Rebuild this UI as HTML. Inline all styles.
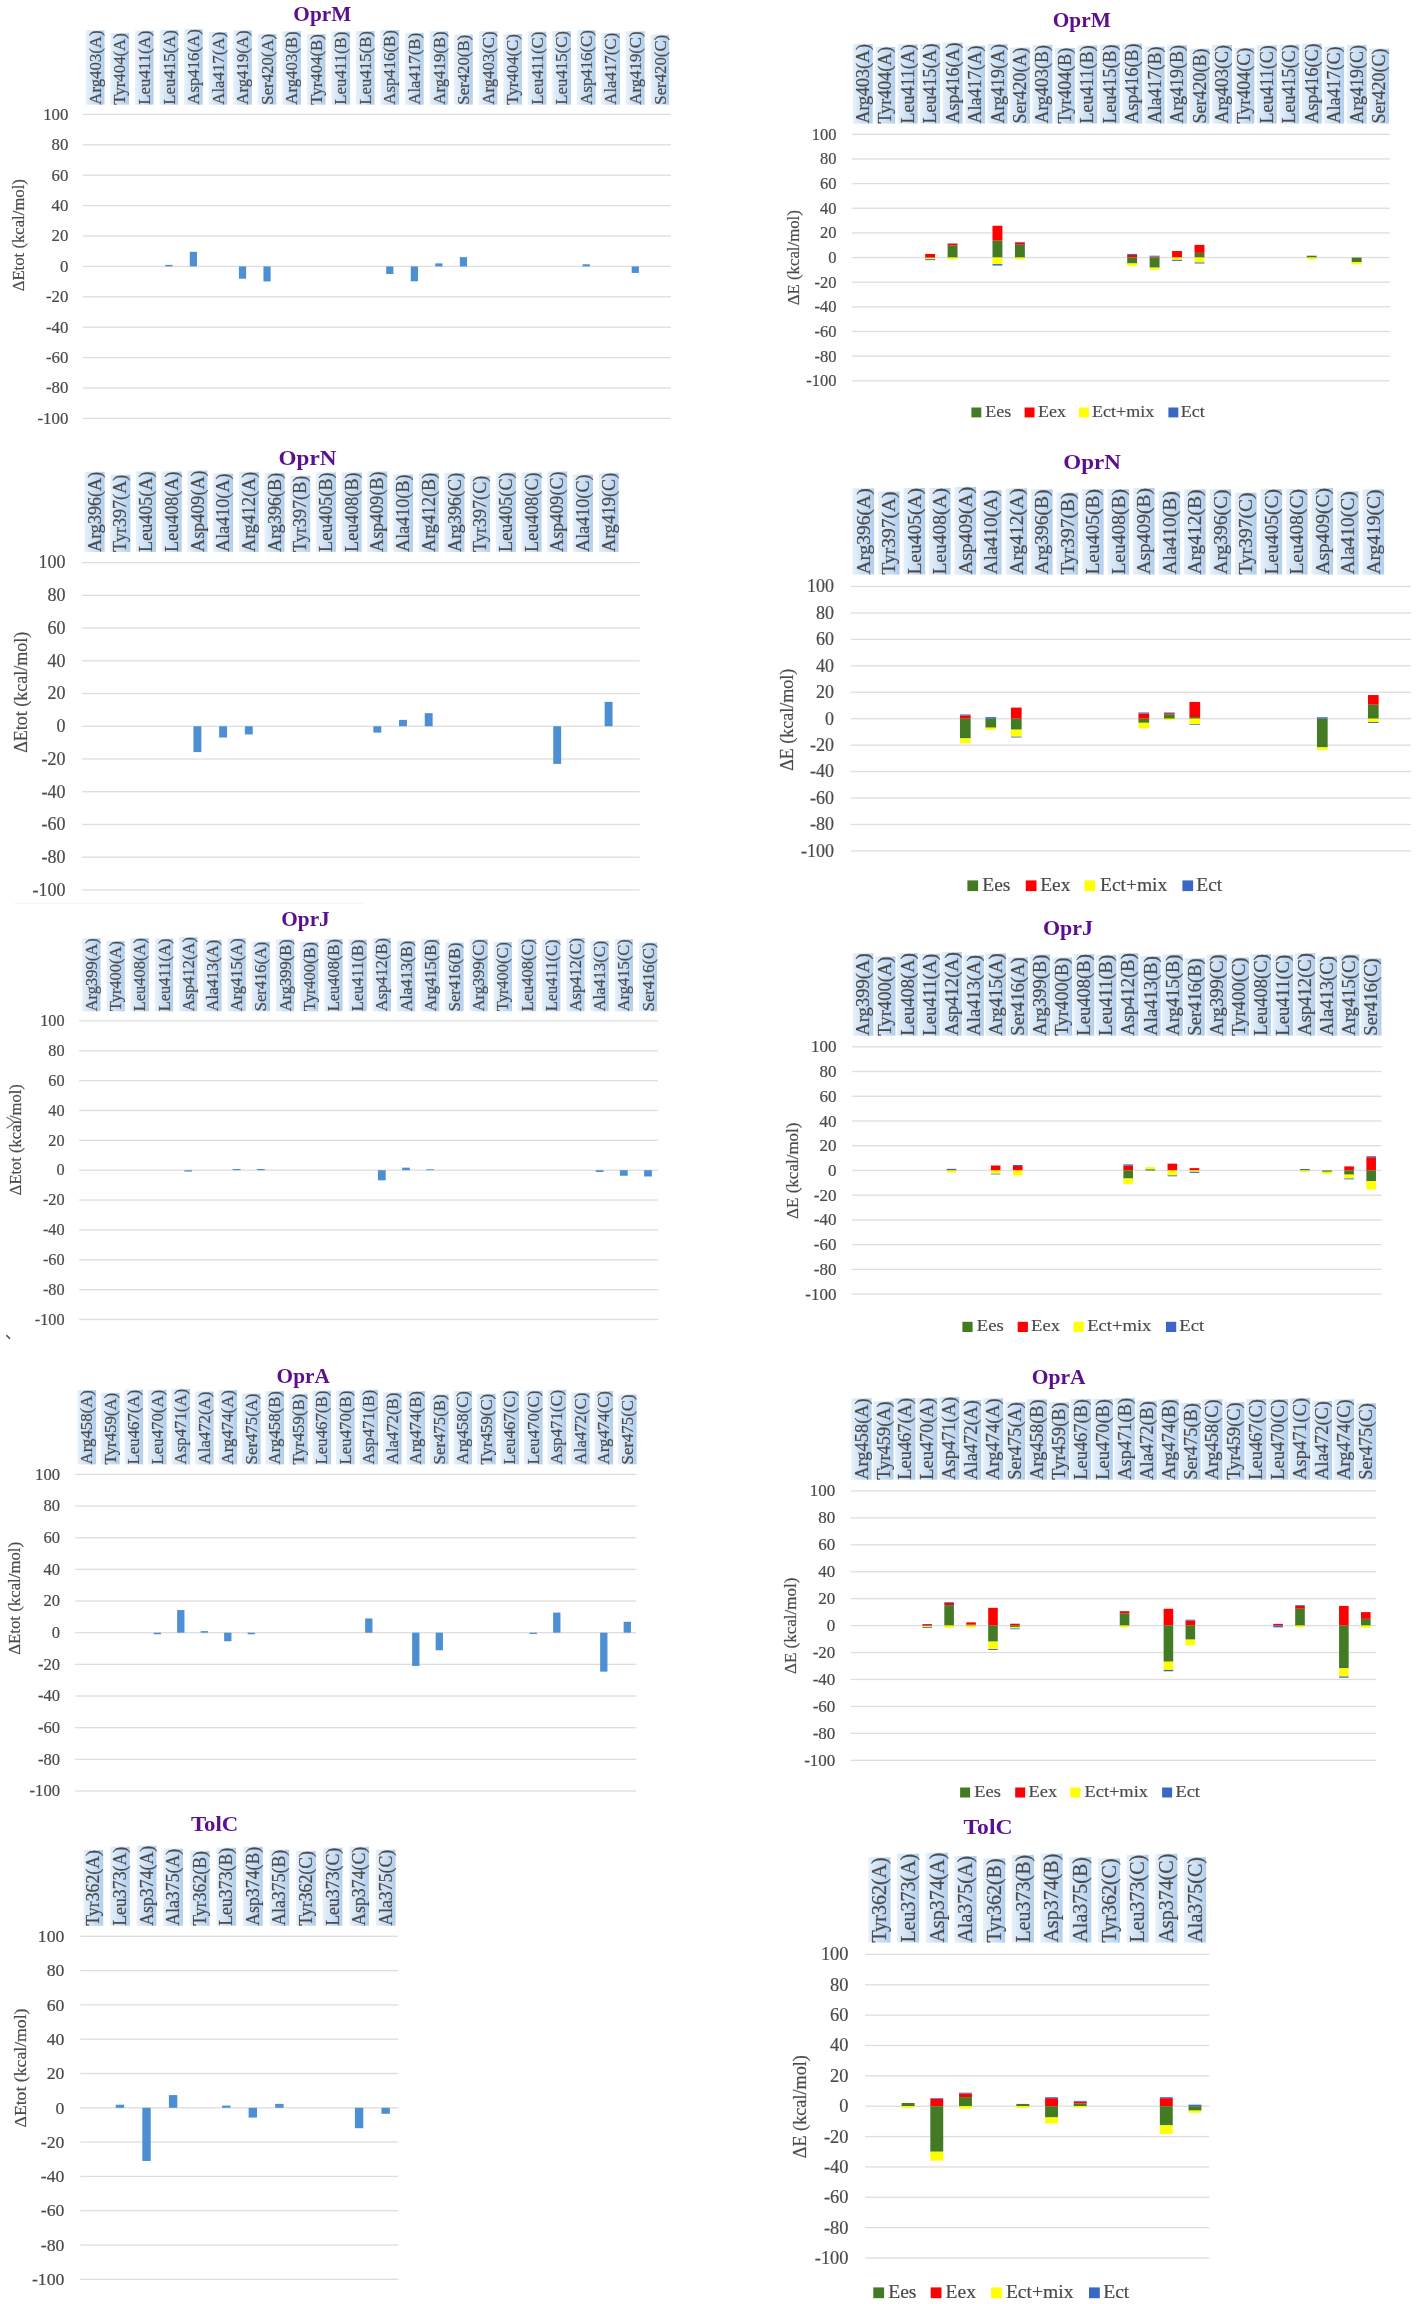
<!DOCTYPE html>
<html><head><meta charset="utf-8"><title>Charts</title>
<style>
html,body{margin:0;padding:0;background:#fff;}
svg{display:block;will-change:transform;}
text{font-family:"Liberation Serif",serif;}
.s text{stroke:#4a4a4a;stroke-width:0.2px;}
</style></head><body>
<svg class="s" width="1416" height="2304" viewBox="0 0 1416 2304">
<defs>
<linearGradient id="lg" x1="0" y1="0" x2="0" y2="1"><stop offset="0" stop-color="#e7f1fb"/><stop offset="1" stop-color="#b2cfee"/></linearGradient>
</defs>
<rect width="1416" height="2304" fill="#fff"/>
<rect x="14" y="902.8" width="350" height="1" fill="#f5f5f5"/>
<rect x="82.8" y="113.75" width="588.1" height="1.3" fill="#dedede"/>
<rect x="82.8" y="144.15" width="588.1" height="1.3" fill="#dedede"/>
<rect x="82.8" y="174.55" width="588.1" height="1.3" fill="#dedede"/>
<rect x="82.8" y="204.95" width="588.1" height="1.3" fill="#dedede"/>
<rect x="82.8" y="235.35" width="588.1" height="1.3" fill="#dedede"/>
<rect x="82.8" y="265.75" width="588.1" height="1.3" fill="#dedede"/>
<rect x="82.8" y="296.15" width="588.1" height="1.3" fill="#dedede"/>
<rect x="82.8" y="326.55" width="588.1" height="1.3" fill="#dedede"/>
<rect x="82.8" y="356.95" width="588.1" height="1.3" fill="#dedede"/>
<rect x="82.8" y="387.35" width="588.1" height="1.3" fill="#dedede"/>
<rect x="82.8" y="417.75" width="588.1" height="1.3" fill="#dedede"/>
<text x="68.3" y="119.84" font-size="16.8" text-anchor="end" fill="#4a4a4a">100</text>
<text x="68.3" y="150.24" font-size="16.8" text-anchor="end" fill="#4a4a4a">80</text>
<text x="68.3" y="180.64" font-size="16.8" text-anchor="end" fill="#4a4a4a">60</text>
<text x="68.3" y="211.04" font-size="16.8" text-anchor="end" fill="#4a4a4a">40</text>
<text x="68.3" y="241.44" font-size="16.8" text-anchor="end" fill="#4a4a4a">20</text>
<text x="68.3" y="271.84" font-size="16.8" text-anchor="end" fill="#4a4a4a">0</text>
<text x="68.3" y="302.24" font-size="16.8" text-anchor="end" fill="#4a4a4a">-20</text>
<text x="68.3" y="332.64" font-size="16.8" text-anchor="end" fill="#4a4a4a">-40</text>
<text x="68.3" y="363.04" font-size="16.8" text-anchor="end" fill="#4a4a4a">-60</text>
<text x="68.3" y="393.44" font-size="16.8" text-anchor="end" fill="#4a4a4a">-80</text>
<text x="68.3" y="423.84" font-size="16.8" text-anchor="end" fill="#4a4a4a">-100</text>
<text transform="translate(23.8,235.2) rotate(-90)" x="0" y="0" font-size="16.7" text-anchor="middle" fill="#4a4a4a">ΔEtot (kcal/mol)</text>
<text x="322.3" y="21.4" font-size="20.6" font-weight="bold" text-anchor="middle" textLength="57.93" lengthAdjust="spacingAndGlyphs" fill="#5b0f8f" style="stroke:none">OprM</text>
<g transform="translate(100.87,104.7) rotate(-90)"><rect x="0" y="-14.97" width="74.35" height="18.6" fill="url(#lg)"/><text x="0" y="0" font-size="16.8" fill="#4a4a4a">Arg403(A)</text></g>
<g transform="translate(125.42,104.7) rotate(-90)"><rect x="0" y="-14.97" width="71.61" height="18.6" fill="url(#lg)"/><text x="0" y="0" font-size="16.8" fill="#4a4a4a">Tyr404(A)</text></g>
<g transform="translate(149.97,104.7) rotate(-90)"><rect x="0" y="-14.97" width="74.02" height="18.6" fill="url(#lg)"/><text x="0" y="0" font-size="16.8" fill="#4a4a4a">Leu411(A)</text></g>
<g transform="translate(174.52,104.7) rotate(-90)"><rect x="0" y="-14.97" width="74.64" height="18.6" fill="url(#lg)"/><text x="0" y="0" font-size="16.8" fill="#4a4a4a">Leu415(A)</text></g>
<g transform="translate(199.07,104.7) rotate(-90)"><rect x="0" y="-14.97" width="75.59" height="18.6" fill="url(#lg)"/><text x="0" y="0" font-size="16.8" fill="#4a4a4a">Asp416(A)</text></g>
<g transform="translate(223.62,104.7) rotate(-90)"><rect x="0" y="-14.97" width="72.78" height="18.6" fill="url(#lg)"/><text x="0" y="0" font-size="16.8" fill="#4a4a4a">Ala417(A)</text></g>
<g transform="translate(248.17,104.7) rotate(-90)"><rect x="0" y="-14.97" width="74.35" height="18.6" fill="url(#lg)"/><text x="0" y="0" font-size="16.8" fill="#4a4a4a">Arg419(A)</text></g>
<g transform="translate(272.72,104.7) rotate(-90)"><rect x="0" y="-14.97" width="70.92" height="18.6" fill="url(#lg)"/><text x="0" y="0" font-size="16.8" fill="#4a4a4a">Ser420(A)</text></g>
<g transform="translate(297.27,104.7) rotate(-90)"><rect x="0" y="-14.97" width="73.42" height="18.6" fill="url(#lg)"/><text x="0" y="0" font-size="16.8" fill="#4a4a4a">Arg403(B)</text></g>
<g transform="translate(321.82,104.7) rotate(-90)"><rect x="0" y="-14.97" width="70.68" height="18.6" fill="url(#lg)"/><text x="0" y="0" font-size="16.8" fill="#4a4a4a">Tyr404(B)</text></g>
<g transform="translate(346.37,104.7) rotate(-90)"><rect x="0" y="-14.97" width="73.09" height="18.6" fill="url(#lg)"/><text x="0" y="0" font-size="16.8" fill="#4a4a4a">Leu411(B)</text></g>
<g transform="translate(370.92,104.7) rotate(-90)"><rect x="0" y="-14.97" width="73.71" height="18.6" fill="url(#lg)"/><text x="0" y="0" font-size="16.8" fill="#4a4a4a">Leu415(B)</text></g>
<g transform="translate(395.47,104.7) rotate(-90)"><rect x="0" y="-14.97" width="74.67" height="18.6" fill="url(#lg)"/><text x="0" y="0" font-size="16.8" fill="#4a4a4a">Asp416(B)</text></g>
<g transform="translate(420.02,104.7) rotate(-90)"><rect x="0" y="-14.97" width="71.85" height="18.6" fill="url(#lg)"/><text x="0" y="0" font-size="16.8" fill="#4a4a4a">Ala417(B)</text></g>
<g transform="translate(444.57,104.7) rotate(-90)"><rect x="0" y="-14.97" width="73.42" height="18.6" fill="url(#lg)"/><text x="0" y="0" font-size="16.8" fill="#4a4a4a">Arg419(B)</text></g>
<g transform="translate(469.12,104.7) rotate(-90)"><rect x="0" y="-14.97" width="69.99" height="18.6" fill="url(#lg)"/><text x="0" y="0" font-size="16.8" fill="#4a4a4a">Ser420(B)</text></g>
<g transform="translate(493.67,104.7) rotate(-90)"><rect x="0" y="-14.97" width="73.42" height="18.6" fill="url(#lg)"/><text x="0" y="0" font-size="16.8" fill="#4a4a4a">Arg403(C)</text></g>
<g transform="translate(518.22,104.7) rotate(-90)"><rect x="0" y="-14.97" width="70.68" height="18.6" fill="url(#lg)"/><text x="0" y="0" font-size="16.8" fill="#4a4a4a">Tyr404(C)</text></g>
<g transform="translate(542.77,104.7) rotate(-90)"><rect x="0" y="-14.97" width="73.09" height="18.6" fill="url(#lg)"/><text x="0" y="0" font-size="16.8" fill="#4a4a4a">Leu411(C)</text></g>
<g transform="translate(567.32,104.7) rotate(-90)"><rect x="0" y="-14.97" width="73.71" height="18.6" fill="url(#lg)"/><text x="0" y="0" font-size="16.8" fill="#4a4a4a">Leu415(C)</text></g>
<g transform="translate(591.87,104.7) rotate(-90)"><rect x="0" y="-14.97" width="74.67" height="18.6" fill="url(#lg)"/><text x="0" y="0" font-size="16.8" fill="#4a4a4a">Asp416(C)</text></g>
<g transform="translate(616.42,104.7) rotate(-90)"><rect x="0" y="-14.97" width="71.85" height="18.6" fill="url(#lg)"/><text x="0" y="0" font-size="16.8" fill="#4a4a4a">Ala417(C)</text></g>
<g transform="translate(640.97,104.7) rotate(-90)"><rect x="0" y="-14.97" width="73.42" height="18.6" fill="url(#lg)"/><text x="0" y="0" font-size="16.8" fill="#4a4a4a">Arg419(C)</text></g>
<g transform="translate(665.52,104.7) rotate(-90)"><rect x="0" y="-14.97" width="69.99" height="18.6" fill="url(#lg)"/><text x="0" y="0" font-size="16.8" fill="#4a4a4a">Ser420(C)</text></g>
<rect x="165.25" y="264.88" width="7.2" height="1.52" fill="#4c8fd2"/>
<rect x="189.8" y="251.81" width="7.2" height="14.59" fill="#4c8fd2"/>
<rect x="238.9" y="266.4" width="7.2" height="12.31" fill="#4c8fd2"/>
<rect x="263.45" y="266.4" width="7.2" height="15.05" fill="#4c8fd2"/>
<rect x="386.2" y="266.4" width="7.2" height="7.6" fill="#4c8fd2"/>
<rect x="410.75" y="266.4" width="7.2" height="14.9" fill="#4c8fd2"/>
<rect x="435.3" y="263.36" width="7.2" height="3.04" fill="#4c8fd2"/>
<rect x="459.85" y="257.13" width="7.2" height="9.27" fill="#4c8fd2"/>
<rect x="582.6" y="264.27" width="7.2" height="2.13" fill="#4c8fd2"/>
<rect x="631.7" y="266.4" width="7.2" height="6.54" fill="#4c8fd2"/>
<rect x="851.7" y="133.65" width="538.2" height="1.3" fill="#dedede"/>
<rect x="851.7" y="158.3" width="538.2" height="1.3" fill="#dedede"/>
<rect x="851.7" y="182.95" width="538.2" height="1.3" fill="#dedede"/>
<rect x="851.7" y="207.6" width="538.2" height="1.3" fill="#dedede"/>
<rect x="851.7" y="232.25" width="538.2" height="1.3" fill="#dedede"/>
<rect x="851.7" y="256.9" width="538.2" height="1.3" fill="#dedede"/>
<rect x="851.7" y="281.55" width="538.2" height="1.3" fill="#dedede"/>
<rect x="851.7" y="306.2" width="538.2" height="1.3" fill="#dedede"/>
<rect x="851.7" y="330.85" width="538.2" height="1.3" fill="#dedede"/>
<rect x="851.7" y="355.5" width="538.2" height="1.3" fill="#dedede"/>
<rect x="851.7" y="380.15" width="538.2" height="1.3" fill="#dedede"/>
<text x="836.4" y="139.65" font-size="16.5" text-anchor="end" fill="#4a4a4a">100</text>
<text x="836.4" y="164.3" font-size="16.5" text-anchor="end" fill="#4a4a4a">80</text>
<text x="836.4" y="188.95" font-size="16.5" text-anchor="end" fill="#4a4a4a">60</text>
<text x="836.4" y="213.6" font-size="16.5" text-anchor="end" fill="#4a4a4a">40</text>
<text x="836.4" y="238.25" font-size="16.5" text-anchor="end" fill="#4a4a4a">20</text>
<text x="836.4" y="262.9" font-size="16.5" text-anchor="end" fill="#4a4a4a">0</text>
<text x="836.4" y="287.55" font-size="16.5" text-anchor="end" fill="#4a4a4a">-20</text>
<text x="836.4" y="312.2" font-size="16.5" text-anchor="end" fill="#4a4a4a">-40</text>
<text x="836.4" y="336.85" font-size="16.5" text-anchor="end" fill="#4a4a4a">-60</text>
<text x="836.4" y="361.5" font-size="16.5" text-anchor="end" fill="#4a4a4a">-80</text>
<text x="836.4" y="386.15" font-size="16.5" text-anchor="end" fill="#4a4a4a">-100</text>
<text transform="translate(798.75,257.7) rotate(-90)" x="0" y="0" font-size="16.8" text-anchor="middle" fill="#4a4a4a">ΔE (kcal/mol)</text>
<text x="1081.8" y="26.7" font-size="20.9" font-weight="bold" text-anchor="middle" textLength="58.04" lengthAdjust="spacingAndGlyphs" fill="#5b0f8f" style="stroke:none">OprM</text>
<g transform="translate(868.83,123.6) rotate(-90)"><rect x="0" y="-16.04" width="79.66" height="19.93" fill="url(#lg)"/><text x="0" y="0" font-size="18" fill="#4a4a4a">Arg403(A)</text></g>
<g transform="translate(891.28,123.6) rotate(-90)"><rect x="0" y="-16.04" width="76.72" height="19.93" fill="url(#lg)"/><text x="0" y="0" font-size="18" fill="#4a4a4a">Tyr404(A)</text></g>
<g transform="translate(913.73,123.6) rotate(-90)"><rect x="0" y="-16.04" width="79.3" height="19.93" fill="url(#lg)"/><text x="0" y="0" font-size="18" fill="#4a4a4a">Leu411(A)</text></g>
<g transform="translate(936.18,123.6) rotate(-90)"><rect x="0" y="-16.04" width="79.97" height="19.93" fill="url(#lg)"/><text x="0" y="0" font-size="18" fill="#4a4a4a">Leu415(A)</text></g>
<g transform="translate(958.62,123.6) rotate(-90)"><rect x="0" y="-16.04" width="80.99" height="19.93" fill="url(#lg)"/><text x="0" y="0" font-size="18" fill="#4a4a4a">Asp416(A)</text></g>
<g transform="translate(981.08,123.6) rotate(-90)"><rect x="0" y="-16.04" width="77.98" height="19.93" fill="url(#lg)"/><text x="0" y="0" font-size="18" fill="#4a4a4a">Ala417(A)</text></g>
<g transform="translate(1003.53,123.6) rotate(-90)"><rect x="0" y="-16.04" width="79.66" height="19.93" fill="url(#lg)"/><text x="0" y="0" font-size="18" fill="#4a4a4a">Arg419(A)</text></g>
<g transform="translate(1025.97,123.6) rotate(-90)"><rect x="0" y="-16.04" width="75.98" height="19.93" fill="url(#lg)"/><text x="0" y="0" font-size="18" fill="#4a4a4a">Ser420(A)</text></g>
<g transform="translate(1048.42,123.6) rotate(-90)"><rect x="0" y="-16.04" width="78.66" height="19.93" fill="url(#lg)"/><text x="0" y="0" font-size="18" fill="#4a4a4a">Arg403(B)</text></g>
<g transform="translate(1070.88,123.6) rotate(-90)"><rect x="0" y="-16.04" width="75.73" height="19.93" fill="url(#lg)"/><text x="0" y="0" font-size="18" fill="#4a4a4a">Tyr404(B)</text></g>
<g transform="translate(1093.33,123.6) rotate(-90)"><rect x="0" y="-16.04" width="78.31" height="19.93" fill="url(#lg)"/><text x="0" y="0" font-size="18" fill="#4a4a4a">Leu411(B)</text></g>
<g transform="translate(1115.78,123.6) rotate(-90)"><rect x="0" y="-16.04" width="78.98" height="19.93" fill="url(#lg)"/><text x="0" y="0" font-size="18" fill="#4a4a4a">Leu415(B)</text></g>
<g transform="translate(1138.23,123.6) rotate(-90)"><rect x="0" y="-16.04" width="80" height="19.93" fill="url(#lg)"/><text x="0" y="0" font-size="18" fill="#4a4a4a">Asp416(B)</text></g>
<g transform="translate(1160.67,123.6) rotate(-90)"><rect x="0" y="-16.04" width="76.98" height="19.93" fill="url(#lg)"/><text x="0" y="0" font-size="18" fill="#4a4a4a">Ala417(B)</text></g>
<g transform="translate(1183.12,123.6) rotate(-90)"><rect x="0" y="-16.04" width="78.66" height="19.93" fill="url(#lg)"/><text x="0" y="0" font-size="18" fill="#4a4a4a">Arg419(B)</text></g>
<g transform="translate(1205.58,123.6) rotate(-90)"><rect x="0" y="-16.04" width="74.99" height="19.93" fill="url(#lg)"/><text x="0" y="0" font-size="18" fill="#4a4a4a">Ser420(B)</text></g>
<g transform="translate(1228.03,123.6) rotate(-90)"><rect x="0" y="-16.04" width="78.66" height="19.93" fill="url(#lg)"/><text x="0" y="0" font-size="18" fill="#4a4a4a">Arg403(C)</text></g>
<g transform="translate(1250.48,123.6) rotate(-90)"><rect x="0" y="-16.04" width="75.73" height="19.93" fill="url(#lg)"/><text x="0" y="0" font-size="18" fill="#4a4a4a">Tyr404(C)</text></g>
<g transform="translate(1272.92,123.6) rotate(-90)"><rect x="0" y="-16.04" width="78.31" height="19.93" fill="url(#lg)"/><text x="0" y="0" font-size="18" fill="#4a4a4a">Leu411(C)</text></g>
<g transform="translate(1295.38,123.6) rotate(-90)"><rect x="0" y="-16.04" width="78.98" height="19.93" fill="url(#lg)"/><text x="0" y="0" font-size="18" fill="#4a4a4a">Leu415(C)</text></g>
<g transform="translate(1317.83,123.6) rotate(-90)"><rect x="0" y="-16.04" width="80" height="19.93" fill="url(#lg)"/><text x="0" y="0" font-size="18" fill="#4a4a4a">Asp416(C)</text></g>
<g transform="translate(1340.28,123.6) rotate(-90)"><rect x="0" y="-16.04" width="76.98" height="19.93" fill="url(#lg)"/><text x="0" y="0" font-size="18" fill="#4a4a4a">Ala417(C)</text></g>
<g transform="translate(1362.73,123.6) rotate(-90)"><rect x="0" y="-16.04" width="78.66" height="19.93" fill="url(#lg)"/><text x="0" y="0" font-size="18" fill="#4a4a4a">Arg419(C)</text></g>
<g transform="translate(1385.17,123.6) rotate(-90)"><rect x="0" y="-16.04" width="74.99" height="19.93" fill="url(#lg)"/><text x="0" y="0" font-size="18" fill="#4a4a4a">Ser420(C)</text></g>
<rect x="925.15" y="253.98" width="9.9" height="3.57" fill="#ff0000"/>
<rect x="925.15" y="257.55" width="9.9" height="0.37" fill="#427b23"/>
<rect x="925.15" y="257.92" width="9.9" height="1.23" fill="#ffff00"/>
<rect x="925.15" y="259.15" width="9.9" height="0.99" fill="#3a66c8"/>
<rect x="947.6" y="245.23" width="9.9" height="12.32" fill="#427b23"/>
<rect x="947.6" y="243.5" width="9.9" height="1.73" fill="#ff0000"/>
<rect x="947.6" y="257.55" width="9.9" height="1.73" fill="#ffff00"/>
<rect x="992.5" y="240.54" width="9.9" height="17.01" fill="#427b23"/>
<rect x="992.5" y="225.75" width="9.9" height="14.79" fill="#ff0000"/>
<rect x="992.5" y="257.55" width="9.9" height="6.53" fill="#ffff00"/>
<rect x="992.5" y="264.08" width="9.9" height="1.48" fill="#3a66c8"/>
<rect x="1014.95" y="244.73" width="9.9" height="12.82" fill="#427b23"/>
<rect x="1014.95" y="242.51" width="9.9" height="2.22" fill="#ff0000"/>
<rect x="1014.95" y="241.9" width="9.9" height="0.62" fill="#3a66c8"/>
<rect x="1014.95" y="257.55" width="9.9" height="1.73" fill="#ffff00"/>
<rect x="1127.2" y="254.96" width="9.9" height="2.59" fill="#ff0000"/>
<rect x="1127.2" y="253.98" width="9.9" height="0.99" fill="#3a66c8"/>
<rect x="1127.2" y="257.55" width="9.9" height="5.92" fill="#427b23"/>
<rect x="1127.2" y="263.47" width="9.9" height="2.71" fill="#ffff00"/>
<rect x="1149.65" y="256.56" width="9.9" height="0.99" fill="#ff0000"/>
<rect x="1149.65" y="255.7" width="9.9" height="0.86" fill="#3a66c8"/>
<rect x="1149.65" y="257.55" width="9.9" height="10.11" fill="#427b23"/>
<rect x="1149.65" y="267.66" width="9.9" height="2.22" fill="#ffff00"/>
<rect x="1172.1" y="251.02" width="9.9" height="6.53" fill="#ff0000"/>
<rect x="1172.1" y="257.55" width="9.9" height="2.34" fill="#ffff00"/>
<rect x="1172.1" y="259.89" width="9.9" height="0.99" fill="#3a66c8"/>
<rect x="1194.55" y="252.87" width="9.9" height="4.68" fill="#427b23"/>
<rect x="1194.55" y="244.86" width="9.9" height="8.01" fill="#ff0000"/>
<rect x="1194.55" y="257.55" width="9.9" height="4.93" fill="#ffff00"/>
<rect x="1194.55" y="262.48" width="9.9" height="0.99" fill="#3a66c8"/>
<rect x="1306.8" y="255.7" width="9.9" height="1.85" fill="#427b23"/>
<rect x="1306.8" y="257.55" width="9.9" height="1.85" fill="#ffff00"/>
<rect x="1351.7" y="257.55" width="9.9" height="4.68" fill="#427b23"/>
<rect x="1351.7" y="262.23" width="9.9" height="1.97" fill="#ffff00"/>
<rect x="971.4" y="407.5" width="9.9" height="9.9" fill="#427b23"/>
<text transform="translate(985.2,417.4) scale(1,0.93)" x="0" y="0" font-size="18" fill="#4a4a4a">Ees</text>
<rect x="1024.6" y="407.5" width="9.9" height="9.9" fill="#ff0000"/>
<text transform="translate(1038.1,417.4) scale(1,0.93)" x="0" y="0" font-size="18" fill="#4a4a4a">Eex</text>
<rect x="1079" y="407.5" width="9.9" height="9.9" fill="#ffff00"/>
<text transform="translate(1092.1,417.4) scale(1,0.93)" x="0" y="0" font-size="18" fill="#4a4a4a">Ect+mix</text>
<rect x="1168.4" y="407.5" width="9.9" height="9.9" fill="#3a66c8"/>
<text transform="translate(1180.8,417.4) scale(1,0.93)" x="0" y="0" font-size="18" fill="#4a4a4a">Ect</text>
<rect x="81.9" y="561.95" width="557.8" height="1.3" fill="#dedede"/>
<rect x="81.9" y="594.68" width="557.8" height="1.3" fill="#dedede"/>
<rect x="81.9" y="627.41" width="557.8" height="1.3" fill="#dedede"/>
<rect x="81.9" y="660.14" width="557.8" height="1.3" fill="#dedede"/>
<rect x="81.9" y="692.87" width="557.8" height="1.3" fill="#dedede"/>
<rect x="81.9" y="725.6" width="557.8" height="1.3" fill="#dedede"/>
<rect x="81.9" y="758.33" width="557.8" height="1.3" fill="#dedede"/>
<rect x="81.9" y="791.06" width="557.8" height="1.3" fill="#dedede"/>
<rect x="81.9" y="823.79" width="557.8" height="1.3" fill="#dedede"/>
<rect x="81.9" y="856.52" width="557.8" height="1.3" fill="#dedede"/>
<rect x="81.9" y="889.25" width="557.8" height="1.3" fill="#dedede"/>
<text x="65.6" y="568.43" font-size="18" text-anchor="end" fill="#4a4a4a">100</text>
<text x="65.6" y="601.16" font-size="18" text-anchor="end" fill="#4a4a4a">80</text>
<text x="65.6" y="633.89" font-size="18" text-anchor="end" fill="#4a4a4a">60</text>
<text x="65.6" y="666.62" font-size="18" text-anchor="end" fill="#4a4a4a">40</text>
<text x="65.6" y="699.35" font-size="18" text-anchor="end" fill="#4a4a4a">20</text>
<text x="65.6" y="732.08" font-size="18" text-anchor="end" fill="#4a4a4a">0</text>
<text x="65.6" y="764.81" font-size="18" text-anchor="end" fill="#4a4a4a">-20</text>
<text x="65.6" y="797.54" font-size="18" text-anchor="end" fill="#4a4a4a">-40</text>
<text x="65.6" y="830.27" font-size="18" text-anchor="end" fill="#4a4a4a">-60</text>
<text x="65.6" y="863" font-size="18" text-anchor="end" fill="#4a4a4a">-80</text>
<text x="65.6" y="895.73" font-size="18" text-anchor="end" fill="#4a4a4a">-100</text>
<text transform="translate(26.8,692.3) rotate(-90)" x="0" y="0" font-size="18" text-anchor="middle" fill="#4a4a4a">ΔEtot (kcal/mol)</text>
<text x="307.5" y="464.7" font-size="21.8" font-weight="bold" text-anchor="middle" textLength="57.89" lengthAdjust="spacingAndGlyphs" fill="#5b0f8f" style="stroke:none">OprN</text>
<g transform="translate(100.71,551.9) rotate(-90)"><rect x="0" y="-16.13" width="80.1" height="20.04" fill="url(#lg)"/><text x="0" y="0" font-size="18.1" fill="#4a4a4a">Arg396(A)</text></g>
<g transform="translate(126.41,551.9) rotate(-90)"><rect x="0" y="-16.13" width="77.15" height="20.04" fill="url(#lg)"/><text x="0" y="0" font-size="18.1" fill="#4a4a4a">Tyr397(A)</text></g>
<g transform="translate(152.11,551.9) rotate(-90)"><rect x="0" y="-16.13" width="80.42" height="20.04" fill="url(#lg)"/><text x="0" y="0" font-size="18.1" fill="#4a4a4a">Leu405(A)</text></g>
<g transform="translate(177.81,551.9) rotate(-90)"><rect x="0" y="-16.13" width="80.42" height="20.04" fill="url(#lg)"/><text x="0" y="0" font-size="18.1" fill="#4a4a4a">Leu408(A)</text></g>
<g transform="translate(203.51,551.9) rotate(-90)"><rect x="0" y="-16.13" width="81.44" height="20.04" fill="url(#lg)"/><text x="0" y="0" font-size="18.1" fill="#4a4a4a">Asp409(A)</text></g>
<g transform="translate(229.21,551.9) rotate(-90)"><rect x="0" y="-16.13" width="78.41" height="20.04" fill="url(#lg)"/><text x="0" y="0" font-size="18.1" fill="#4a4a4a">Ala410(A)</text></g>
<g transform="translate(254.91,551.9) rotate(-90)"><rect x="0" y="-16.13" width="80.1" height="20.04" fill="url(#lg)"/><text x="0" y="0" font-size="18.1" fill="#4a4a4a">Arg412(A)</text></g>
<g transform="translate(280.61,551.9) rotate(-90)"><rect x="0" y="-16.13" width="79.1" height="20.04" fill="url(#lg)"/><text x="0" y="0" font-size="18.1" fill="#4a4a4a">Arg396(B)</text></g>
<g transform="translate(306.31,551.9) rotate(-90)"><rect x="0" y="-16.13" width="76.15" height="20.04" fill="url(#lg)"/><text x="0" y="0" font-size="18.1" fill="#4a4a4a">Tyr397(B)</text></g>
<g transform="translate(332.01,551.9) rotate(-90)"><rect x="0" y="-16.13" width="79.42" height="20.04" fill="url(#lg)"/><text x="0" y="0" font-size="18.1" fill="#4a4a4a">Leu405(B)</text></g>
<g transform="translate(357.71,551.9) rotate(-90)"><rect x="0" y="-16.13" width="79.42" height="20.04" fill="url(#lg)"/><text x="0" y="0" font-size="18.1" fill="#4a4a4a">Leu408(B)</text></g>
<g transform="translate(383.41,551.9) rotate(-90)"><rect x="0" y="-16.13" width="80.44" height="20.04" fill="url(#lg)"/><text x="0" y="0" font-size="18.1" fill="#4a4a4a">Asp409(B)</text></g>
<g transform="translate(409.11,551.9) rotate(-90)"><rect x="0" y="-16.13" width="77.41" height="20.04" fill="url(#lg)"/><text x="0" y="0" font-size="18.1" fill="#4a4a4a">Ala410(B)</text></g>
<g transform="translate(434.81,551.9) rotate(-90)"><rect x="0" y="-16.13" width="79.1" height="20.04" fill="url(#lg)"/><text x="0" y="0" font-size="18.1" fill="#4a4a4a">Arg412(B)</text></g>
<g transform="translate(460.51,551.9) rotate(-90)"><rect x="0" y="-16.13" width="79.1" height="20.04" fill="url(#lg)"/><text x="0" y="0" font-size="18.1" fill="#4a4a4a">Arg396(C)</text></g>
<g transform="translate(486.21,551.9) rotate(-90)"><rect x="0" y="-16.13" width="76.15" height="20.04" fill="url(#lg)"/><text x="0" y="0" font-size="18.1" fill="#4a4a4a">Tyr397(C)</text></g>
<g transform="translate(511.91,551.9) rotate(-90)"><rect x="0" y="-16.13" width="79.42" height="20.04" fill="url(#lg)"/><text x="0" y="0" font-size="18.1" fill="#4a4a4a">Leu405(C)</text></g>
<g transform="translate(537.61,551.9) rotate(-90)"><rect x="0" y="-16.13" width="79.42" height="20.04" fill="url(#lg)"/><text x="0" y="0" font-size="18.1" fill="#4a4a4a">Leu408(C)</text></g>
<g transform="translate(563.31,551.9) rotate(-90)"><rect x="0" y="-16.13" width="80.44" height="20.04" fill="url(#lg)"/><text x="0" y="0" font-size="18.1" fill="#4a4a4a">Asp409(C)</text></g>
<g transform="translate(589.01,551.9) rotate(-90)"><rect x="0" y="-16.13" width="77.41" height="20.04" fill="url(#lg)"/><text x="0" y="0" font-size="18.1" fill="#4a4a4a">Ala410(C)</text></g>
<g transform="translate(614.71,551.9) rotate(-90)"><rect x="0" y="-16.13" width="79.1" height="20.04" fill="url(#lg)"/><text x="0" y="0" font-size="18.1" fill="#4a4a4a">Arg419(C)</text></g>
<rect x="193.45" y="726.25" width="7.9" height="25.86" fill="#4c8fd2"/>
<rect x="219.15" y="726.25" width="7.9" height="11.29" fill="#4c8fd2"/>
<rect x="244.85" y="726.25" width="7.9" height="8.18" fill="#4c8fd2"/>
<rect x="373.35" y="726.25" width="7.9" height="6.38" fill="#4c8fd2"/>
<rect x="399.05" y="719.87" width="7.9" height="6.38" fill="#4c8fd2"/>
<rect x="424.75" y="713.16" width="7.9" height="13.09" fill="#4c8fd2"/>
<rect x="553.25" y="726.25" width="7.9" height="37.64" fill="#4c8fd2"/>
<rect x="604.65" y="701.87" width="7.9" height="24.38" fill="#4c8fd2"/>
<rect x="850.6" y="585.85" width="560.5" height="1.3" fill="#dedede"/>
<rect x="850.6" y="612.29" width="560.5" height="1.3" fill="#dedede"/>
<rect x="850.6" y="638.73" width="560.5" height="1.3" fill="#dedede"/>
<rect x="850.6" y="665.17" width="560.5" height="1.3" fill="#dedede"/>
<rect x="850.6" y="691.61" width="560.5" height="1.3" fill="#dedede"/>
<rect x="850.6" y="718.05" width="560.5" height="1.3" fill="#dedede"/>
<rect x="850.6" y="744.49" width="560.5" height="1.3" fill="#dedede"/>
<rect x="850.6" y="770.93" width="560.5" height="1.3" fill="#dedede"/>
<rect x="850.6" y="797.37" width="560.5" height="1.3" fill="#dedede"/>
<rect x="850.6" y="823.81" width="560.5" height="1.3" fill="#dedede"/>
<rect x="850.6" y="850.25" width="560.5" height="1.3" fill="#dedede"/>
<text x="834.1" y="592.33" font-size="18" text-anchor="end" fill="#4a4a4a">100</text>
<text x="834.1" y="618.77" font-size="18" text-anchor="end" fill="#4a4a4a">80</text>
<text x="834.1" y="645.21" font-size="18" text-anchor="end" fill="#4a4a4a">60</text>
<text x="834.1" y="671.65" font-size="18" text-anchor="end" fill="#4a4a4a">40</text>
<text x="834.1" y="698.09" font-size="18" text-anchor="end" fill="#4a4a4a">20</text>
<text x="834.1" y="724.53" font-size="18" text-anchor="end" fill="#4a4a4a">0</text>
<text x="834.1" y="750.97" font-size="18" text-anchor="end" fill="#4a4a4a">-20</text>
<text x="834.1" y="777.41" font-size="18" text-anchor="end" fill="#4a4a4a">-40</text>
<text x="834.1" y="803.85" font-size="18" text-anchor="end" fill="#4a4a4a">-60</text>
<text x="834.1" y="830.29" font-size="18" text-anchor="end" fill="#4a4a4a">-80</text>
<text x="834.1" y="856.73" font-size="18" text-anchor="end" fill="#4a4a4a">-100</text>
<text transform="translate(792.7,719.8) rotate(-90)" x="0" y="0" font-size="18" text-anchor="middle" fill="#4a4a4a">ΔE (kcal/mol)</text>
<text x="1092.1" y="468.8" font-size="22" font-weight="bold" text-anchor="middle" textLength="57.58" lengthAdjust="spacingAndGlyphs" fill="#5b0f8f" style="stroke:none">OprN</text>
<g transform="translate(869.88,574.6) rotate(-90)"><rect x="0" y="-17.37" width="86.29" height="21.59" fill="url(#lg)"/><text x="0" y="0" font-size="19.5" fill="#4a4a4a">Arg396(A)</text></g>
<g transform="translate(895.38,574.6) rotate(-90)"><rect x="0" y="-17.37" width="83.11" height="21.59" fill="url(#lg)"/><text x="0" y="0" font-size="19.5" fill="#4a4a4a">Tyr397(A)</text></g>
<g transform="translate(920.88,574.6) rotate(-90)"><rect x="0" y="-17.37" width="86.64" height="21.59" fill="url(#lg)"/><text x="0" y="0" font-size="19.5" fill="#4a4a4a">Leu405(A)</text></g>
<g transform="translate(946.38,574.6) rotate(-90)"><rect x="0" y="-17.37" width="86.64" height="21.59" fill="url(#lg)"/><text x="0" y="0" font-size="19.5" fill="#4a4a4a">Leu408(A)</text></g>
<g transform="translate(971.88,574.6) rotate(-90)"><rect x="0" y="-17.37" width="87.74" height="21.59" fill="url(#lg)"/><text x="0" y="0" font-size="19.5" fill="#4a4a4a">Asp409(A)</text></g>
<g transform="translate(997.38,574.6) rotate(-90)"><rect x="0" y="-17.37" width="84.47" height="21.59" fill="url(#lg)"/><text x="0" y="0" font-size="19.5" fill="#4a4a4a">Ala410(A)</text></g>
<g transform="translate(1022.88,574.6) rotate(-90)"><rect x="0" y="-17.37" width="86.29" height="21.59" fill="url(#lg)"/><text x="0" y="0" font-size="19.5" fill="#4a4a4a">Arg412(A)</text></g>
<g transform="translate(1048.38,574.6) rotate(-90)"><rect x="0" y="-17.37" width="85.22" height="21.59" fill="url(#lg)"/><text x="0" y="0" font-size="19.5" fill="#4a4a4a">Arg396(B)</text></g>
<g transform="translate(1073.88,574.6) rotate(-90)"><rect x="0" y="-17.37" width="82.04" height="21.59" fill="url(#lg)"/><text x="0" y="0" font-size="19.5" fill="#4a4a4a">Tyr397(B)</text></g>
<g transform="translate(1099.38,574.6) rotate(-90)"><rect x="0" y="-17.37" width="85.56" height="21.59" fill="url(#lg)"/><text x="0" y="0" font-size="19.5" fill="#4a4a4a">Leu405(B)</text></g>
<g transform="translate(1124.88,574.6) rotate(-90)"><rect x="0" y="-17.37" width="85.56" height="21.59" fill="url(#lg)"/><text x="0" y="0" font-size="19.5" fill="#4a4a4a">Leu408(B)</text></g>
<g transform="translate(1150.38,574.6) rotate(-90)"><rect x="0" y="-17.37" width="86.67" height="21.59" fill="url(#lg)"/><text x="0" y="0" font-size="19.5" fill="#4a4a4a">Asp409(B)</text></g>
<g transform="translate(1175.88,574.6) rotate(-90)"><rect x="0" y="-17.37" width="83.4" height="21.59" fill="url(#lg)"/><text x="0" y="0" font-size="19.5" fill="#4a4a4a">Ala410(B)</text></g>
<g transform="translate(1201.38,574.6) rotate(-90)"><rect x="0" y="-17.37" width="85.22" height="21.59" fill="url(#lg)"/><text x="0" y="0" font-size="19.5" fill="#4a4a4a">Arg412(B)</text></g>
<g transform="translate(1226.88,574.6) rotate(-90)"><rect x="0" y="-17.37" width="85.22" height="21.59" fill="url(#lg)"/><text x="0" y="0" font-size="19.5" fill="#4a4a4a">Arg396(C)</text></g>
<g transform="translate(1252.38,574.6) rotate(-90)"><rect x="0" y="-17.37" width="82.04" height="21.59" fill="url(#lg)"/><text x="0" y="0" font-size="19.5" fill="#4a4a4a">Tyr397(C)</text></g>
<g transform="translate(1277.88,574.6) rotate(-90)"><rect x="0" y="-17.37" width="85.56" height="21.59" fill="url(#lg)"/><text x="0" y="0" font-size="19.5" fill="#4a4a4a">Leu405(C)</text></g>
<g transform="translate(1303.38,574.6) rotate(-90)"><rect x="0" y="-17.37" width="85.56" height="21.59" fill="url(#lg)"/><text x="0" y="0" font-size="19.5" fill="#4a4a4a">Leu408(C)</text></g>
<g transform="translate(1328.88,574.6) rotate(-90)"><rect x="0" y="-17.37" width="86.67" height="21.59" fill="url(#lg)"/><text x="0" y="0" font-size="19.5" fill="#4a4a4a">Asp409(C)</text></g>
<g transform="translate(1354.38,574.6) rotate(-90)"><rect x="0" y="-17.37" width="83.4" height="21.59" fill="url(#lg)"/><text x="0" y="0" font-size="19.5" fill="#4a4a4a">Ala410(C)</text></g>
<g transform="translate(1379.88,574.6) rotate(-90)"><rect x="0" y="-17.37" width="85.22" height="21.59" fill="url(#lg)"/><text x="0" y="0" font-size="19.5" fill="#4a4a4a">Arg419(C)</text></g>
<rect x="959.95" y="715.39" width="10.7" height="3.31" fill="#ff0000"/>
<rect x="959.95" y="714.47" width="10.7" height="0.93" fill="#3a66c8"/>
<rect x="959.95" y="718.7" width="10.7" height="19.7" fill="#427b23"/>
<rect x="959.95" y="738.4" width="10.7" height="4.89" fill="#ffff00"/>
<rect x="985.45" y="717.11" width="10.7" height="1.59" fill="#3a66c8"/>
<rect x="985.45" y="718.7" width="10.7" height="8.99" fill="#427b23"/>
<rect x="985.45" y="727.69" width="10.7" height="2.12" fill="#ffff00"/>
<rect x="1010.95" y="707.6" width="10.7" height="11.1" fill="#ff0000"/>
<rect x="1010.95" y="718.7" width="10.7" height="10.97" fill="#427b23"/>
<rect x="1010.95" y="729.67" width="10.7" height="7.01" fill="#ffff00"/>
<rect x="1010.95" y="736.68" width="10.7" height="0.79" fill="#3a66c8"/>
<rect x="1138.45" y="713.41" width="10.7" height="5.29" fill="#ff0000"/>
<rect x="1138.45" y="712.49" width="10.7" height="0.93" fill="#3a66c8"/>
<rect x="1138.45" y="718.7" width="10.7" height="4.1" fill="#427b23"/>
<rect x="1138.45" y="722.8" width="10.7" height="5.55" fill="#ffff00"/>
<rect x="1163.95" y="714.47" width="10.7" height="4.23" fill="#427b23"/>
<rect x="1163.95" y="713.15" width="10.7" height="1.32" fill="#ff0000"/>
<rect x="1163.95" y="712.49" width="10.7" height="0.66" fill="#3a66c8"/>
<rect x="1163.95" y="718.7" width="10.7" height="1.45" fill="#ffff00"/>
<rect x="1189.45" y="716.98" width="10.7" height="1.72" fill="#427b23"/>
<rect x="1189.45" y="701.91" width="10.7" height="15.07" fill="#ff0000"/>
<rect x="1189.45" y="718.7" width="10.7" height="5.55" fill="#ffff00"/>
<rect x="1189.45" y="724.25" width="10.7" height="0.66" fill="#3a66c8"/>
<rect x="1316.95" y="717.25" width="10.7" height="1.45" fill="#3a66c8"/>
<rect x="1316.95" y="718.7" width="10.7" height="28.69" fill="#427b23"/>
<rect x="1316.95" y="747.39" width="10.7" height="2.78" fill="#ffff00"/>
<rect x="1367.95" y="704.69" width="10.7" height="14.01" fill="#427b23"/>
<rect x="1367.95" y="695.04" width="10.7" height="9.65" fill="#ff0000"/>
<rect x="1367.95" y="718.7" width="10.7" height="3.3" fill="#ffff00"/>
<rect x="1367.95" y="722" width="10.7" height="0.93" fill="#3a66c8"/>
<rect x="967.4" y="880.4" width="10.7" height="10.7" fill="#427b23"/>
<text transform="translate(982.3,891) scale(1,0.93)" x="0" y="0" font-size="19.5" fill="#4a4a4a">Ees</text>
<rect x="1025.8" y="880.4" width="10.7" height="10.7" fill="#ff0000"/>
<text transform="translate(1040.2,891) scale(1,0.93)" x="0" y="0" font-size="19.5" fill="#4a4a4a">Eex</text>
<rect x="1084.5" y="880.4" width="10.7" height="10.7" fill="#ffff00"/>
<text transform="translate(1100,891) scale(1,0.93)" x="0" y="0" font-size="19.5" fill="#4a4a4a">Ect+mix</text>
<rect x="1182.4" y="880.4" width="10.7" height="10.7" fill="#3a66c8"/>
<text transform="translate(1196.3,891) scale(1,0.93)" x="0" y="0" font-size="19.5" fill="#4a4a4a">Ect</text>
<rect x="79.1" y="1020.25" width="578.8" height="1.3" fill="#dedede"/>
<rect x="79.1" y="1050.11" width="578.8" height="1.3" fill="#dedede"/>
<rect x="79.1" y="1079.97" width="578.8" height="1.3" fill="#dedede"/>
<rect x="79.1" y="1109.83" width="578.8" height="1.3" fill="#dedede"/>
<rect x="79.1" y="1139.69" width="578.8" height="1.3" fill="#dedede"/>
<rect x="79.1" y="1169.55" width="578.8" height="1.3" fill="#dedede"/>
<rect x="79.1" y="1199.41" width="578.8" height="1.3" fill="#dedede"/>
<rect x="79.1" y="1229.27" width="578.8" height="1.3" fill="#dedede"/>
<rect x="79.1" y="1259.13" width="578.8" height="1.3" fill="#dedede"/>
<rect x="79.1" y="1288.99" width="578.8" height="1.3" fill="#dedede"/>
<rect x="79.1" y="1318.85" width="578.8" height="1.3" fill="#dedede"/>
<text x="64.6" y="1026.18" font-size="16.3" text-anchor="end" fill="#4a4a4a">100</text>
<text x="64.6" y="1056.04" font-size="16.3" text-anchor="end" fill="#4a4a4a">80</text>
<text x="64.6" y="1085.9" font-size="16.3" text-anchor="end" fill="#4a4a4a">60</text>
<text x="64.6" y="1115.76" font-size="16.3" text-anchor="end" fill="#4a4a4a">40</text>
<text x="64.6" y="1145.62" font-size="16.3" text-anchor="end" fill="#4a4a4a">20</text>
<text x="64.6" y="1175.48" font-size="16.3" text-anchor="end" fill="#4a4a4a">0</text>
<text x="64.6" y="1205.34" font-size="16.3" text-anchor="end" fill="#4a4a4a">-20</text>
<text x="64.6" y="1235.2" font-size="16.3" text-anchor="end" fill="#4a4a4a">-40</text>
<text x="64.6" y="1265.06" font-size="16.3" text-anchor="end" fill="#4a4a4a">-60</text>
<text x="64.6" y="1294.92" font-size="16.3" text-anchor="end" fill="#4a4a4a">-80</text>
<text x="64.6" y="1324.78" font-size="16.3" text-anchor="end" fill="#4a4a4a">-100</text>
<text transform="translate(21.1,1139.7) rotate(-90)" x="0" y="0" font-size="16.5" text-anchor="middle" fill="#4a4a4a">ΔEtot (kcal/mol)</text>
<text x="305.5" y="926.2" font-size="20.2" font-weight="bold" text-anchor="middle" textLength="48.45" lengthAdjust="spacingAndGlyphs" fill="#5b0f8f" style="stroke:none">OprJ</text>
<g transform="translate(96.97,1011.3) rotate(-90)"><rect x="0" y="-14.7" width="73.02" height="18.27" fill="url(#lg)"/><text x="0" y="0" font-size="16.5" fill="#4a4a4a">Arg399(A)</text></g>
<g transform="translate(121.17,1011.3) rotate(-90)"><rect x="0" y="-14.7" width="70.33" height="18.27" fill="url(#lg)"/><text x="0" y="0" font-size="16.5" fill="#4a4a4a">Tyr400(A)</text></g>
<g transform="translate(145.37,1011.3) rotate(-90)"><rect x="0" y="-14.7" width="73.31" height="18.27" fill="url(#lg)"/><text x="0" y="0" font-size="16.5" fill="#4a4a4a">Leu408(A)</text></g>
<g transform="translate(169.57,1011.3) rotate(-90)"><rect x="0" y="-14.7" width="72.7" height="18.27" fill="url(#lg)"/><text x="0" y="0" font-size="16.5" fill="#4a4a4a">Leu411(A)</text></g>
<g transform="translate(193.77,1011.3) rotate(-90)"><rect x="0" y="-14.7" width="74.24" height="18.27" fill="url(#lg)"/><text x="0" y="0" font-size="16.5" fill="#4a4a4a">Asp412(A)</text></g>
<g transform="translate(217.97,1011.3) rotate(-90)"><rect x="0" y="-14.7" width="71.48" height="18.27" fill="url(#lg)"/><text x="0" y="0" font-size="16.5" fill="#4a4a4a">Ala413(A)</text></g>
<g transform="translate(242.17,1011.3) rotate(-90)"><rect x="0" y="-14.7" width="73.02" height="18.27" fill="url(#lg)"/><text x="0" y="0" font-size="16.5" fill="#4a4a4a">Arg415(A)</text></g>
<g transform="translate(266.37,1011.3) rotate(-90)"><rect x="0" y="-14.7" width="69.65" height="18.27" fill="url(#lg)"/><text x="0" y="0" font-size="16.5" fill="#4a4a4a">Ser416(A)</text></g>
<g transform="translate(290.57,1011.3) rotate(-90)"><rect x="0" y="-14.7" width="72.11" height="18.27" fill="url(#lg)"/><text x="0" y="0" font-size="16.5" fill="#4a4a4a">Arg399(B)</text></g>
<g transform="translate(314.77,1011.3) rotate(-90)"><rect x="0" y="-14.7" width="69.42" height="18.27" fill="url(#lg)"/><text x="0" y="0" font-size="16.5" fill="#4a4a4a">Tyr400(B)</text></g>
<g transform="translate(338.97,1011.3) rotate(-90)"><rect x="0" y="-14.7" width="72.4" height="18.27" fill="url(#lg)"/><text x="0" y="0" font-size="16.5" fill="#4a4a4a">Leu408(B)</text></g>
<g transform="translate(363.17,1011.3) rotate(-90)"><rect x="0" y="-14.7" width="71.79" height="18.27" fill="url(#lg)"/><text x="0" y="0" font-size="16.5" fill="#4a4a4a">Leu411(B)</text></g>
<g transform="translate(387.37,1011.3) rotate(-90)"><rect x="0" y="-14.7" width="73.33" height="18.27" fill="url(#lg)"/><text x="0" y="0" font-size="16.5" fill="#4a4a4a">Asp412(B)</text></g>
<g transform="translate(411.57,1011.3) rotate(-90)"><rect x="0" y="-14.7" width="70.57" height="18.27" fill="url(#lg)"/><text x="0" y="0" font-size="16.5" fill="#4a4a4a">Ala413(B)</text></g>
<g transform="translate(435.77,1011.3) rotate(-90)"><rect x="0" y="-14.7" width="72.11" height="18.27" fill="url(#lg)"/><text x="0" y="0" font-size="16.5" fill="#4a4a4a">Arg415(B)</text></g>
<g transform="translate(459.97,1011.3) rotate(-90)"><rect x="0" y="-14.7" width="68.74" height="18.27" fill="url(#lg)"/><text x="0" y="0" font-size="16.5" fill="#4a4a4a">Ser416(B)</text></g>
<g transform="translate(484.17,1011.3) rotate(-90)"><rect x="0" y="-14.7" width="72.11" height="18.27" fill="url(#lg)"/><text x="0" y="0" font-size="16.5" fill="#4a4a4a">Arg399(C)</text></g>
<g transform="translate(508.37,1011.3) rotate(-90)"><rect x="0" y="-14.7" width="69.42" height="18.27" fill="url(#lg)"/><text x="0" y="0" font-size="16.5" fill="#4a4a4a">Tyr400(C)</text></g>
<g transform="translate(532.57,1011.3) rotate(-90)"><rect x="0" y="-14.7" width="72.4" height="18.27" fill="url(#lg)"/><text x="0" y="0" font-size="16.5" fill="#4a4a4a">Leu408(C)</text></g>
<g transform="translate(556.77,1011.3) rotate(-90)"><rect x="0" y="-14.7" width="71.79" height="18.27" fill="url(#lg)"/><text x="0" y="0" font-size="16.5" fill="#4a4a4a">Leu411(C)</text></g>
<g transform="translate(580.97,1011.3) rotate(-90)"><rect x="0" y="-14.7" width="73.33" height="18.27" fill="url(#lg)"/><text x="0" y="0" font-size="16.5" fill="#4a4a4a">Asp412(C)</text></g>
<g transform="translate(605.17,1011.3) rotate(-90)"><rect x="0" y="-14.7" width="70.57" height="18.27" fill="url(#lg)"/><text x="0" y="0" font-size="16.5" fill="#4a4a4a">Ala413(C)</text></g>
<g transform="translate(629.37,1011.3) rotate(-90)"><rect x="0" y="-14.7" width="72.11" height="18.27" fill="url(#lg)"/><text x="0" y="0" font-size="16.5" fill="#4a4a4a">Arg415(C)</text></g>
<g transform="translate(653.57,1011.3) rotate(-90)"><rect x="0" y="-14.7" width="68.74" height="18.27" fill="url(#lg)"/><text x="0" y="0" font-size="16.5" fill="#4a4a4a">Ser416(C)</text></g>
<rect x="184.3" y="1170.2" width="7.8" height="1.34" fill="#4c8fd2"/>
<rect x="232.7" y="1169.01" width="7.8" height="1.19" fill="#4c8fd2"/>
<rect x="256.9" y="1169.01" width="7.8" height="1.19" fill="#4c8fd2"/>
<rect x="377.9" y="1170.2" width="7.8" height="10.15" fill="#4c8fd2"/>
<rect x="402.1" y="1167.66" width="7.8" height="2.54" fill="#4c8fd2"/>
<rect x="426.3" y="1169.3" width="7.8" height="0.9" fill="#4c8fd2"/>
<rect x="595.7" y="1170.2" width="7.8" height="1.79" fill="#4c8fd2"/>
<rect x="619.9" y="1170.2" width="7.8" height="5.52" fill="#4c8fd2"/>
<rect x="644.1" y="1170.2" width="7.8" height="6.27" fill="#4c8fd2"/>
<rect x="852.1" y="1046.15" width="529.5" height="1.3" fill="#dedede"/>
<rect x="852.1" y="1070.88" width="529.5" height="1.3" fill="#dedede"/>
<rect x="852.1" y="1095.61" width="529.5" height="1.3" fill="#dedede"/>
<rect x="852.1" y="1120.34" width="529.5" height="1.3" fill="#dedede"/>
<rect x="852.1" y="1145.07" width="529.5" height="1.3" fill="#dedede"/>
<rect x="852.1" y="1169.8" width="529.5" height="1.3" fill="#dedede"/>
<rect x="852.1" y="1194.53" width="529.5" height="1.3" fill="#dedede"/>
<rect x="852.1" y="1219.26" width="529.5" height="1.3" fill="#dedede"/>
<rect x="852.1" y="1243.99" width="529.5" height="1.3" fill="#dedede"/>
<rect x="852.1" y="1268.72" width="529.5" height="1.3" fill="#dedede"/>
<rect x="852.1" y="1293.45" width="529.5" height="1.3" fill="#dedede"/>
<text x="836.5" y="1052.31" font-size="17" text-anchor="end" fill="#4a4a4a">100</text>
<text x="836.5" y="1077.04" font-size="17" text-anchor="end" fill="#4a4a4a">80</text>
<text x="836.5" y="1101.77" font-size="17" text-anchor="end" fill="#4a4a4a">60</text>
<text x="836.5" y="1126.5" font-size="17" text-anchor="end" fill="#4a4a4a">40</text>
<text x="836.5" y="1151.23" font-size="17" text-anchor="end" fill="#4a4a4a">20</text>
<text x="836.5" y="1175.96" font-size="17" text-anchor="end" fill="#4a4a4a">0</text>
<text x="836.5" y="1200.69" font-size="17" text-anchor="end" fill="#4a4a4a">-20</text>
<text x="836.5" y="1225.42" font-size="17" text-anchor="end" fill="#4a4a4a">-40</text>
<text x="836.5" y="1250.15" font-size="17" text-anchor="end" fill="#4a4a4a">-60</text>
<text x="836.5" y="1274.88" font-size="17" text-anchor="end" fill="#4a4a4a">-80</text>
<text x="836.5" y="1299.61" font-size="17" text-anchor="end" fill="#4a4a4a">-100</text>
<text transform="translate(797.8,1170.7) rotate(-90)" x="0" y="0" font-size="17" text-anchor="middle" fill="#4a4a4a">ΔE (kcal/mol)</text>
<text x="1068" y="935.4" font-size="20.8" font-weight="bold" text-anchor="middle" textLength="50.11" lengthAdjust="spacingAndGlyphs" fill="#5b0f8f" style="stroke:none">OprJ</text>
<g transform="translate(869.38,1035.7) rotate(-90)"><rect x="0" y="-16.57" width="82.31" height="20.59" fill="url(#lg)"/><text x="0" y="0" font-size="18.6" fill="#4a4a4a">Arg399(A)</text></g>
<g transform="translate(891.47,1035.7) rotate(-90)"><rect x="0" y="-16.57" width="79.28" height="20.59" fill="url(#lg)"/><text x="0" y="0" font-size="18.6" fill="#4a4a4a">Tyr400(A)</text></g>
<g transform="translate(913.56,1035.7) rotate(-90)"><rect x="0" y="-16.57" width="82.64" height="20.59" fill="url(#lg)"/><text x="0" y="0" font-size="18.6" fill="#4a4a4a">Leu408(A)</text></g>
<g transform="translate(935.65,1035.7) rotate(-90)"><rect x="0" y="-16.57" width="81.95" height="20.59" fill="url(#lg)"/><text x="0" y="0" font-size="18.6" fill="#4a4a4a">Leu411(A)</text></g>
<g transform="translate(957.74,1035.7) rotate(-90)"><rect x="0" y="-16.57" width="83.69" height="20.59" fill="url(#lg)"/><text x="0" y="0" font-size="18.6" fill="#4a4a4a">Asp412(A)</text></g>
<g transform="translate(979.83,1035.7) rotate(-90)"><rect x="0" y="-16.57" width="80.58" height="20.59" fill="url(#lg)"/><text x="0" y="0" font-size="18.6" fill="#4a4a4a">Ala413(A)</text></g>
<g transform="translate(1001.92,1035.7) rotate(-90)"><rect x="0" y="-16.57" width="82.31" height="20.59" fill="url(#lg)"/><text x="0" y="0" font-size="18.6" fill="#4a4a4a">Arg415(A)</text></g>
<g transform="translate(1024.01,1035.7) rotate(-90)"><rect x="0" y="-16.57" width="78.51" height="20.59" fill="url(#lg)"/><text x="0" y="0" font-size="18.6" fill="#4a4a4a">Ser416(A)</text></g>
<g transform="translate(1046.1,1035.7) rotate(-90)"><rect x="0" y="-16.57" width="81.28" height="20.59" fill="url(#lg)"/><text x="0" y="0" font-size="18.6" fill="#4a4a4a">Arg399(B)</text></g>
<g transform="translate(1068.19,1035.7) rotate(-90)"><rect x="0" y="-16.57" width="78.25" height="20.59" fill="url(#lg)"/><text x="0" y="0" font-size="18.6" fill="#4a4a4a">Tyr400(B)</text></g>
<g transform="translate(1090.28,1035.7) rotate(-90)"><rect x="0" y="-16.57" width="81.61" height="20.59" fill="url(#lg)"/><text x="0" y="0" font-size="18.6" fill="#4a4a4a">Leu408(B)</text></g>
<g transform="translate(1112.37,1035.7) rotate(-90)"><rect x="0" y="-16.57" width="80.92" height="20.59" fill="url(#lg)"/><text x="0" y="0" font-size="18.6" fill="#4a4a4a">Leu411(B)</text></g>
<g transform="translate(1134.46,1035.7) rotate(-90)"><rect x="0" y="-16.57" width="82.67" height="20.59" fill="url(#lg)"/><text x="0" y="0" font-size="18.6" fill="#4a4a4a">Asp412(B)</text></g>
<g transform="translate(1156.55,1035.7) rotate(-90)"><rect x="0" y="-16.57" width="79.55" height="20.59" fill="url(#lg)"/><text x="0" y="0" font-size="18.6" fill="#4a4a4a">Ala413(B)</text></g>
<g transform="translate(1178.64,1035.7) rotate(-90)"><rect x="0" y="-16.57" width="81.28" height="20.59" fill="url(#lg)"/><text x="0" y="0" font-size="18.6" fill="#4a4a4a">Arg415(B)</text></g>
<g transform="translate(1200.73,1035.7) rotate(-90)"><rect x="0" y="-16.57" width="77.49" height="20.59" fill="url(#lg)"/><text x="0" y="0" font-size="18.6" fill="#4a4a4a">Ser416(B)</text></g>
<g transform="translate(1222.82,1035.7) rotate(-90)"><rect x="0" y="-16.57" width="81.28" height="20.59" fill="url(#lg)"/><text x="0" y="0" font-size="18.6" fill="#4a4a4a">Arg399(C)</text></g>
<g transform="translate(1244.91,1035.7) rotate(-90)"><rect x="0" y="-16.57" width="78.25" height="20.59" fill="url(#lg)"/><text x="0" y="0" font-size="18.6" fill="#4a4a4a">Tyr400(C)</text></g>
<g transform="translate(1267,1035.7) rotate(-90)"><rect x="0" y="-16.57" width="81.61" height="20.59" fill="url(#lg)"/><text x="0" y="0" font-size="18.6" fill="#4a4a4a">Leu408(C)</text></g>
<g transform="translate(1289.09,1035.7) rotate(-90)"><rect x="0" y="-16.57" width="80.92" height="20.59" fill="url(#lg)"/><text x="0" y="0" font-size="18.6" fill="#4a4a4a">Leu411(C)</text></g>
<g transform="translate(1311.18,1035.7) rotate(-90)"><rect x="0" y="-16.57" width="82.67" height="20.59" fill="url(#lg)"/><text x="0" y="0" font-size="18.6" fill="#4a4a4a">Asp412(C)</text></g>
<g transform="translate(1333.27,1035.7) rotate(-90)"><rect x="0" y="-16.57" width="79.55" height="20.59" fill="url(#lg)"/><text x="0" y="0" font-size="18.6" fill="#4a4a4a">Ala413(C)</text></g>
<g transform="translate(1355.36,1035.7) rotate(-90)"><rect x="0" y="-16.57" width="81.28" height="20.59" fill="url(#lg)"/><text x="0" y="0" font-size="18.6" fill="#4a4a4a">Arg415(C)</text></g>
<g transform="translate(1377.45,1035.7) rotate(-90)"><rect x="0" y="-16.57" width="77.49" height="20.59" fill="url(#lg)"/><text x="0" y="0" font-size="18.6" fill="#4a4a4a">Ser416(C)</text></g>
<rect x="946.66" y="1170.08" width="9.6" height="0.37" fill="#ff0000"/>
<rect x="946.66" y="1168.84" width="9.6" height="1.24" fill="#3a66c8"/>
<rect x="946.66" y="1170.45" width="9.6" height="2.23" fill="#ffff00"/>
<rect x="990.84" y="1165.5" width="9.6" height="4.95" fill="#ff0000"/>
<rect x="990.84" y="1170.45" width="9.6" height="3.34" fill="#ffff00"/>
<rect x="990.84" y="1173.79" width="9.6" height="0.62" fill="#3a66c8"/>
<rect x="1012.93" y="1166" width="9.6" height="4.45" fill="#ff0000"/>
<rect x="1012.93" y="1165.01" width="9.6" height="0.99" fill="#3a66c8"/>
<rect x="1012.93" y="1170.45" width="9.6" height="4.95" fill="#ffff00"/>
<rect x="1123.38" y="1165.38" width="9.6" height="5.07" fill="#ff0000"/>
<rect x="1123.38" y="1164.39" width="9.6" height="0.99" fill="#3a66c8"/>
<rect x="1123.38" y="1170.45" width="9.6" height="8.04" fill="#427b23"/>
<rect x="1123.38" y="1178.49" width="9.6" height="5.44" fill="#ffff00"/>
<rect x="1145.47" y="1169.21" width="9.6" height="1.24" fill="#427b23"/>
<rect x="1145.47" y="1167.11" width="9.6" height="2.1" fill="#ffff00"/>
<rect x="1167.56" y="1163.65" width="9.6" height="6.8" fill="#ff0000"/>
<rect x="1167.56" y="1170.45" width="9.6" height="4.95" fill="#ffff00"/>
<rect x="1167.56" y="1175.4" width="9.6" height="0.87" fill="#3a66c8"/>
<rect x="1189.65" y="1168.1" width="9.6" height="2.35" fill="#ff0000"/>
<rect x="1189.65" y="1170.45" width="9.6" height="1.36" fill="#ffff00"/>
<rect x="1189.65" y="1171.81" width="9.6" height="1.11" fill="#3a66c8"/>
<rect x="1300.1" y="1168.97" width="9.6" height="1.48" fill="#3a66c8"/>
<rect x="1300.1" y="1170.45" width="9.6" height="1.73" fill="#ffff00"/>
<rect x="1322.19" y="1170.45" width="9.6" height="1.36" fill="#427b23"/>
<rect x="1322.19" y="1171.81" width="9.6" height="1.98" fill="#ffff00"/>
<rect x="1344.28" y="1166.37" width="9.6" height="4.08" fill="#ff0000"/>
<rect x="1344.28" y="1170.45" width="9.6" height="4.2" fill="#427b23"/>
<rect x="1344.28" y="1174.65" width="9.6" height="3.83" fill="#ffff00"/>
<rect x="1344.28" y="1178.49" width="9.6" height="0.87" fill="#3a66c8"/>
<rect x="1366.37" y="1157.22" width="9.6" height="13.23" fill="#ff0000"/>
<rect x="1366.37" y="1156.23" width="9.6" height="0.99" fill="#3a66c8"/>
<rect x="1366.37" y="1170.45" width="9.6" height="10.76" fill="#427b23"/>
<rect x="1366.37" y="1181.21" width="9.6" height="8.28" fill="#ffff00"/>
<rect x="962.4" y="1321.8" width="10.2" height="10.2" fill="#427b23"/>
<text transform="translate(976.8,1331.1) scale(1,0.93)" x="0" y="0" font-size="18.6" fill="#4a4a4a">Ees</text>
<rect x="1017.7" y="1321.8" width="10.2" height="10.2" fill="#ff0000"/>
<text transform="translate(1031.1,1331.1) scale(1,0.93)" x="0" y="0" font-size="18.6" fill="#4a4a4a">Eex</text>
<rect x="1073.6" y="1321.8" width="10.2" height="10.2" fill="#ffff00"/>
<text transform="translate(1087.2,1331.1) scale(1,0.93)" x="0" y="0" font-size="18.6" fill="#4a4a4a">Ect+mix</text>
<rect x="1166" y="1321.8" width="10.2" height="10.2" fill="#3a66c8"/>
<text transform="translate(1179.3,1331.1) scale(1,0.93)" x="0" y="0" font-size="18.6" fill="#4a4a4a">Ect</text>
<rect x="75.2" y="1473.75" width="561.2" height="1.3" fill="#dedede"/>
<rect x="75.2" y="1505.41" width="561.2" height="1.3" fill="#dedede"/>
<rect x="75.2" y="1537.07" width="561.2" height="1.3" fill="#dedede"/>
<rect x="75.2" y="1568.73" width="561.2" height="1.3" fill="#dedede"/>
<rect x="75.2" y="1600.39" width="561.2" height="1.3" fill="#dedede"/>
<rect x="75.2" y="1632.05" width="561.2" height="1.3" fill="#dedede"/>
<rect x="75.2" y="1663.71" width="561.2" height="1.3" fill="#dedede"/>
<rect x="75.2" y="1695.37" width="561.2" height="1.3" fill="#dedede"/>
<rect x="75.2" y="1727.03" width="561.2" height="1.3" fill="#dedede"/>
<rect x="75.2" y="1758.69" width="561.2" height="1.3" fill="#dedede"/>
<rect x="75.2" y="1790.35" width="561.2" height="1.3" fill="#dedede"/>
<text x="60" y="1479.78" font-size="16.6" text-anchor="end" fill="#4a4a4a">100</text>
<text x="60" y="1511.44" font-size="16.6" text-anchor="end" fill="#4a4a4a">80</text>
<text x="60" y="1543.1" font-size="16.6" text-anchor="end" fill="#4a4a4a">60</text>
<text x="60" y="1574.76" font-size="16.6" text-anchor="end" fill="#4a4a4a">40</text>
<text x="60" y="1606.42" font-size="16.6" text-anchor="end" fill="#4a4a4a">20</text>
<text x="60" y="1638.08" font-size="16.6" text-anchor="end" fill="#4a4a4a">0</text>
<text x="60" y="1669.74" font-size="16.6" text-anchor="end" fill="#4a4a4a">-20</text>
<text x="60" y="1701.4" font-size="16.6" text-anchor="end" fill="#4a4a4a">-40</text>
<text x="60" y="1733.06" font-size="16.6" text-anchor="end" fill="#4a4a4a">-60</text>
<text x="60" y="1764.72" font-size="16.6" text-anchor="end" fill="#4a4a4a">-80</text>
<text x="60" y="1796.38" font-size="16.6" text-anchor="end" fill="#4a4a4a">-100</text>
<text transform="translate(19.7,1598.3) rotate(-90)" x="0" y="0" font-size="16.8" text-anchor="middle" fill="#4a4a4a">ΔEtot (kcal/mol)</text>
<text x="303.2" y="1382.9" font-size="20.8" font-weight="bold" text-anchor="middle" textLength="53.27" lengthAdjust="spacingAndGlyphs" fill="#5b0f8f" style="stroke:none">OprA</text>
<g transform="translate(92.47,1464.4) rotate(-90)"><rect x="0" y="-14.97" width="74.35" height="18.6" fill="url(#lg)"/><text x="0" y="0" font-size="16.8" fill="#4a4a4a">Arg458(A)</text></g>
<g transform="translate(115.97,1464.4) rotate(-90)"><rect x="0" y="-14.97" width="71.61" height="18.6" fill="url(#lg)"/><text x="0" y="0" font-size="16.8" fill="#4a4a4a">Tyr459(A)</text></g>
<g transform="translate(139.47,1464.4) rotate(-90)"><rect x="0" y="-14.97" width="74.64" height="18.6" fill="url(#lg)"/><text x="0" y="0" font-size="16.8" fill="#4a4a4a">Leu467(A)</text></g>
<g transform="translate(162.97,1464.4) rotate(-90)"><rect x="0" y="-14.97" width="74.64" height="18.6" fill="url(#lg)"/><text x="0" y="0" font-size="16.8" fill="#4a4a4a">Leu470(A)</text></g>
<g transform="translate(186.47,1464.4) rotate(-90)"><rect x="0" y="-14.97" width="75.59" height="18.6" fill="url(#lg)"/><text x="0" y="0" font-size="16.8" fill="#4a4a4a">Asp471(A)</text></g>
<g transform="translate(209.97,1464.4) rotate(-90)"><rect x="0" y="-14.97" width="72.78" height="18.6" fill="url(#lg)"/><text x="0" y="0" font-size="16.8" fill="#4a4a4a">Ala472(A)</text></g>
<g transform="translate(233.47,1464.4) rotate(-90)"><rect x="0" y="-14.97" width="74.35" height="18.6" fill="url(#lg)"/><text x="0" y="0" font-size="16.8" fill="#4a4a4a">Arg474(A)</text></g>
<g transform="translate(256.97,1464.4) rotate(-90)"><rect x="0" y="-14.97" width="70.92" height="18.6" fill="url(#lg)"/><text x="0" y="0" font-size="16.8" fill="#4a4a4a">Ser475(A)</text></g>
<g transform="translate(280.47,1464.4) rotate(-90)"><rect x="0" y="-14.97" width="73.42" height="18.6" fill="url(#lg)"/><text x="0" y="0" font-size="16.8" fill="#4a4a4a">Arg458(B)</text></g>
<g transform="translate(303.97,1464.4) rotate(-90)"><rect x="0" y="-14.97" width="70.68" height="18.6" fill="url(#lg)"/><text x="0" y="0" font-size="16.8" fill="#4a4a4a">Tyr459(B)</text></g>
<g transform="translate(327.47,1464.4) rotate(-90)"><rect x="0" y="-14.97" width="73.71" height="18.6" fill="url(#lg)"/><text x="0" y="0" font-size="16.8" fill="#4a4a4a">Leu467(B)</text></g>
<g transform="translate(350.97,1464.4) rotate(-90)"><rect x="0" y="-14.97" width="73.71" height="18.6" fill="url(#lg)"/><text x="0" y="0" font-size="16.8" fill="#4a4a4a">Leu470(B)</text></g>
<g transform="translate(374.47,1464.4) rotate(-90)"><rect x="0" y="-14.97" width="74.67" height="18.6" fill="url(#lg)"/><text x="0" y="0" font-size="16.8" fill="#4a4a4a">Asp471(B)</text></g>
<g transform="translate(397.97,1464.4) rotate(-90)"><rect x="0" y="-14.97" width="71.85" height="18.6" fill="url(#lg)"/><text x="0" y="0" font-size="16.8" fill="#4a4a4a">Ala472(B)</text></g>
<g transform="translate(421.47,1464.4) rotate(-90)"><rect x="0" y="-14.97" width="73.42" height="18.6" fill="url(#lg)"/><text x="0" y="0" font-size="16.8" fill="#4a4a4a">Arg474(B)</text></g>
<g transform="translate(444.97,1464.4) rotate(-90)"><rect x="0" y="-14.97" width="69.99" height="18.6" fill="url(#lg)"/><text x="0" y="0" font-size="16.8" fill="#4a4a4a">Ser475(B)</text></g>
<g transform="translate(468.47,1464.4) rotate(-90)"><rect x="0" y="-14.97" width="73.42" height="18.6" fill="url(#lg)"/><text x="0" y="0" font-size="16.8" fill="#4a4a4a">Arg458(C)</text></g>
<g transform="translate(491.97,1464.4) rotate(-90)"><rect x="0" y="-14.97" width="70.68" height="18.6" fill="url(#lg)"/><text x="0" y="0" font-size="16.8" fill="#4a4a4a">Tyr459(C)</text></g>
<g transform="translate(515.47,1464.4) rotate(-90)"><rect x="0" y="-14.97" width="73.71" height="18.6" fill="url(#lg)"/><text x="0" y="0" font-size="16.8" fill="#4a4a4a">Leu467(C)</text></g>
<g transform="translate(538.97,1464.4) rotate(-90)"><rect x="0" y="-14.97" width="73.71" height="18.6" fill="url(#lg)"/><text x="0" y="0" font-size="16.8" fill="#4a4a4a">Leu470(C)</text></g>
<g transform="translate(562.47,1464.4) rotate(-90)"><rect x="0" y="-14.97" width="74.67" height="18.6" fill="url(#lg)"/><text x="0" y="0" font-size="16.8" fill="#4a4a4a">Asp471(C)</text></g>
<g transform="translate(585.97,1464.4) rotate(-90)"><rect x="0" y="-14.97" width="71.85" height="18.6" fill="url(#lg)"/><text x="0" y="0" font-size="16.8" fill="#4a4a4a">Ala472(C)</text></g>
<g transform="translate(609.47,1464.4) rotate(-90)"><rect x="0" y="-14.97" width="73.42" height="18.6" fill="url(#lg)"/><text x="0" y="0" font-size="16.8" fill="#4a4a4a">Arg474(C)</text></g>
<g transform="translate(632.97,1464.4) rotate(-90)"><rect x="0" y="-14.97" width="69.99" height="18.6" fill="url(#lg)"/><text x="0" y="0" font-size="16.8" fill="#4a4a4a">Ser475(C)</text></g>
<rect x="153.65" y="1632.7" width="7.3" height="1.58" fill="#4c8fd2"/>
<rect x="177.15" y="1610.06" width="7.3" height="22.64" fill="#4c8fd2"/>
<rect x="200.65" y="1631.12" width="7.3" height="1.58" fill="#4c8fd2"/>
<rect x="224.15" y="1632.7" width="7.3" height="8.55" fill="#4c8fd2"/>
<rect x="247.65" y="1632.7" width="7.3" height="1.58" fill="#4c8fd2"/>
<rect x="365.15" y="1618.45" width="7.3" height="14.25" fill="#4c8fd2"/>
<rect x="412.15" y="1632.7" width="7.3" height="33.24" fill="#4c8fd2"/>
<rect x="435.65" y="1632.7" width="7.3" height="17.57" fill="#4c8fd2"/>
<rect x="529.65" y="1632.7" width="7.3" height="1.27" fill="#4c8fd2"/>
<rect x="553.15" y="1612.6" width="7.3" height="20.1" fill="#4c8fd2"/>
<rect x="600.15" y="1632.7" width="7.3" height="38.94" fill="#4c8fd2"/>
<rect x="623.65" y="1621.78" width="7.3" height="10.92" fill="#4c8fd2"/>
<rect x="850.6" y="1490.25" width="525.7" height="1.3" fill="#dedede"/>
<rect x="850.6" y="1517.19" width="525.7" height="1.3" fill="#dedede"/>
<rect x="850.6" y="1544.13" width="525.7" height="1.3" fill="#dedede"/>
<rect x="850.6" y="1571.07" width="525.7" height="1.3" fill="#dedede"/>
<rect x="850.6" y="1598.01" width="525.7" height="1.3" fill="#dedede"/>
<rect x="850.6" y="1624.95" width="525.7" height="1.3" fill="#dedede"/>
<rect x="850.6" y="1651.89" width="525.7" height="1.3" fill="#dedede"/>
<rect x="850.6" y="1678.83" width="525.7" height="1.3" fill="#dedede"/>
<rect x="850.6" y="1705.77" width="525.7" height="1.3" fill="#dedede"/>
<rect x="850.6" y="1732.71" width="525.7" height="1.3" fill="#dedede"/>
<rect x="850.6" y="1759.65" width="525.7" height="1.3" fill="#dedede"/>
<text x="835.3" y="1496.41" font-size="17" text-anchor="end" fill="#4a4a4a">100</text>
<text x="835.3" y="1523.35" font-size="17" text-anchor="end" fill="#4a4a4a">80</text>
<text x="835.3" y="1550.29" font-size="17" text-anchor="end" fill="#4a4a4a">60</text>
<text x="835.3" y="1577.23" font-size="17" text-anchor="end" fill="#4a4a4a">40</text>
<text x="835.3" y="1604.17" font-size="17" text-anchor="end" fill="#4a4a4a">20</text>
<text x="835.3" y="1631.11" font-size="17" text-anchor="end" fill="#4a4a4a">0</text>
<text x="835.3" y="1658.05" font-size="17" text-anchor="end" fill="#4a4a4a">-20</text>
<text x="835.3" y="1684.99" font-size="17" text-anchor="end" fill="#4a4a4a">-40</text>
<text x="835.3" y="1711.93" font-size="17" text-anchor="end" fill="#4a4a4a">-60</text>
<text x="835.3" y="1738.87" font-size="17" text-anchor="end" fill="#4a4a4a">-80</text>
<text x="835.3" y="1765.81" font-size="17" text-anchor="end" fill="#4a4a4a">-100</text>
<text transform="translate(796.2,1625.8) rotate(-90)" x="0" y="0" font-size="17" text-anchor="middle" fill="#4a4a4a">ΔE (kcal/mol)</text>
<text x="1058.6" y="1383.9" font-size="20.7" font-weight="bold" text-anchor="middle" textLength="53.89" lengthAdjust="spacingAndGlyphs" fill="#5b0f8f" style="stroke:none">OprA</text>
<g transform="translate(867.61,1479.7) rotate(-90)"><rect x="0" y="-16.39" width="81.43" height="20.37" fill="url(#lg)"/><text x="0" y="0" font-size="18.4" fill="#4a4a4a">Arg458(A)</text></g>
<g transform="translate(889.54,1479.7) rotate(-90)"><rect x="0" y="-16.39" width="78.43" height="20.37" fill="url(#lg)"/><text x="0" y="0" font-size="18.4" fill="#4a4a4a">Tyr459(A)</text></g>
<g transform="translate(911.47,1479.7) rotate(-90)"><rect x="0" y="-16.39" width="81.75" height="20.37" fill="url(#lg)"/><text x="0" y="0" font-size="18.4" fill="#4a4a4a">Leu467(A)</text></g>
<g transform="translate(933.4,1479.7) rotate(-90)"><rect x="0" y="-16.39" width="81.75" height="20.37" fill="url(#lg)"/><text x="0" y="0" font-size="18.4" fill="#4a4a4a">Leu470(A)</text></g>
<g transform="translate(955.33,1479.7) rotate(-90)"><rect x="0" y="-16.39" width="82.79" height="20.37" fill="url(#lg)"/><text x="0" y="0" font-size="18.4" fill="#4a4a4a">Asp471(A)</text></g>
<g transform="translate(977.26,1479.7) rotate(-90)"><rect x="0" y="-16.39" width="79.71" height="20.37" fill="url(#lg)"/><text x="0" y="0" font-size="18.4" fill="#4a4a4a">Ala472(A)</text></g>
<g transform="translate(999.19,1479.7) rotate(-90)"><rect x="0" y="-16.39" width="81.43" height="20.37" fill="url(#lg)"/><text x="0" y="0" font-size="18.4" fill="#4a4a4a">Arg474(A)</text></g>
<g transform="translate(1021.12,1479.7) rotate(-90)"><rect x="0" y="-16.39" width="77.67" height="20.37" fill="url(#lg)"/><text x="0" y="0" font-size="18.4" fill="#4a4a4a">Ser475(A)</text></g>
<g transform="translate(1043.05,1479.7) rotate(-90)"><rect x="0" y="-16.39" width="80.41" height="20.37" fill="url(#lg)"/><text x="0" y="0" font-size="18.4" fill="#4a4a4a">Arg458(B)</text></g>
<g transform="translate(1064.98,1479.7) rotate(-90)"><rect x="0" y="-16.39" width="77.41" height="20.37" fill="url(#lg)"/><text x="0" y="0" font-size="18.4" fill="#4a4a4a">Tyr459(B)</text></g>
<g transform="translate(1086.91,1479.7) rotate(-90)"><rect x="0" y="-16.39" width="80.73" height="20.37" fill="url(#lg)"/><text x="0" y="0" font-size="18.4" fill="#4a4a4a">Leu467(B)</text></g>
<g transform="translate(1108.84,1479.7) rotate(-90)"><rect x="0" y="-16.39" width="80.73" height="20.37" fill="url(#lg)"/><text x="0" y="0" font-size="18.4" fill="#4a4a4a">Leu470(B)</text></g>
<g transform="translate(1130.77,1479.7) rotate(-90)"><rect x="0" y="-16.39" width="81.78" height="20.37" fill="url(#lg)"/><text x="0" y="0" font-size="18.4" fill="#4a4a4a">Asp471(B)</text></g>
<g transform="translate(1152.7,1479.7) rotate(-90)"><rect x="0" y="-16.39" width="78.69" height="20.37" fill="url(#lg)"/><text x="0" y="0" font-size="18.4" fill="#4a4a4a">Ala472(B)</text></g>
<g transform="translate(1174.63,1479.7) rotate(-90)"><rect x="0" y="-16.39" width="80.41" height="20.37" fill="url(#lg)"/><text x="0" y="0" font-size="18.4" fill="#4a4a4a">Arg474(B)</text></g>
<g transform="translate(1196.56,1479.7) rotate(-90)"><rect x="0" y="-16.39" width="76.66" height="20.37" fill="url(#lg)"/><text x="0" y="0" font-size="18.4" fill="#4a4a4a">Ser475(B)</text></g>
<g transform="translate(1218.49,1479.7) rotate(-90)"><rect x="0" y="-16.39" width="80.41" height="20.37" fill="url(#lg)"/><text x="0" y="0" font-size="18.4" fill="#4a4a4a">Arg458(C)</text></g>
<g transform="translate(1240.42,1479.7) rotate(-90)"><rect x="0" y="-16.39" width="77.41" height="20.37" fill="url(#lg)"/><text x="0" y="0" font-size="18.4" fill="#4a4a4a">Tyr459(C)</text></g>
<g transform="translate(1262.35,1479.7) rotate(-90)"><rect x="0" y="-16.39" width="80.73" height="20.37" fill="url(#lg)"/><text x="0" y="0" font-size="18.4" fill="#4a4a4a">Leu467(C)</text></g>
<g transform="translate(1284.28,1479.7) rotate(-90)"><rect x="0" y="-16.39" width="80.73" height="20.37" fill="url(#lg)"/><text x="0" y="0" font-size="18.4" fill="#4a4a4a">Leu470(C)</text></g>
<g transform="translate(1306.21,1479.7) rotate(-90)"><rect x="0" y="-16.39" width="81.78" height="20.37" fill="url(#lg)"/><text x="0" y="0" font-size="18.4" fill="#4a4a4a">Asp471(C)</text></g>
<g transform="translate(1328.14,1479.7) rotate(-90)"><rect x="0" y="-16.39" width="78.69" height="20.37" fill="url(#lg)"/><text x="0" y="0" font-size="18.4" fill="#4a4a4a">Ala472(C)</text></g>
<g transform="translate(1350.07,1479.7) rotate(-90)"><rect x="0" y="-16.39" width="80.41" height="20.37" fill="url(#lg)"/><text x="0" y="0" font-size="18.4" fill="#4a4a4a">Arg474(C)</text></g>
<g transform="translate(1372,1479.7) rotate(-90)"><rect x="0" y="-16.39" width="76.66" height="20.37" fill="url(#lg)"/><text x="0" y="0" font-size="18.4" fill="#4a4a4a">Ser475(C)</text></g>
<rect x="922.39" y="1624.12" width="9.6" height="1.48" fill="#ff0000"/>
<rect x="922.39" y="1625.6" width="9.6" height="0.67" fill="#427b23"/>
<rect x="922.39" y="1626.27" width="9.6" height="0.81" fill="#ffff00"/>
<rect x="922.39" y="1627.08" width="9.6" height="0.81" fill="#3a66c8"/>
<rect x="944.32" y="1605.13" width="9.6" height="20.47" fill="#427b23"/>
<rect x="944.32" y="1602.97" width="9.6" height="2.16" fill="#ff0000"/>
<rect x="944.32" y="1602.16" width="9.6" height="0.81" fill="#3a66c8"/>
<rect x="944.32" y="1625.6" width="9.6" height="2.29" fill="#ffff00"/>
<rect x="966.25" y="1624.52" width="9.6" height="1.08" fill="#427b23"/>
<rect x="966.25" y="1622.37" width="9.6" height="2.16" fill="#ff0000"/>
<rect x="966.25" y="1625.6" width="9.6" height="1.89" fill="#ffff00"/>
<rect x="988.18" y="1607.82" width="9.6" height="17.78" fill="#ff0000"/>
<rect x="988.18" y="1625.6" width="9.6" height="16.03" fill="#427b23"/>
<rect x="988.18" y="1641.63" width="9.6" height="7.41" fill="#ffff00"/>
<rect x="988.18" y="1649.04" width="9.6" height="0.94" fill="#3a66c8"/>
<rect x="1010.11" y="1623.71" width="9.6" height="1.89" fill="#ff0000"/>
<rect x="1010.11" y="1625.6" width="9.6" height="1.35" fill="#427b23"/>
<rect x="1010.11" y="1626.95" width="9.6" height="1.48" fill="#ffff00"/>
<rect x="1010.11" y="1628.43" width="9.6" height="0.81" fill="#3a66c8"/>
<rect x="1119.76" y="1613.34" width="9.6" height="12.26" fill="#427b23"/>
<rect x="1119.76" y="1611.19" width="9.6" height="2.16" fill="#ff0000"/>
<rect x="1119.76" y="1625.6" width="9.6" height="1.75" fill="#ffff00"/>
<rect x="1163.62" y="1608.76" width="9.6" height="16.84" fill="#ff0000"/>
<rect x="1163.62" y="1625.6" width="9.6" height="36.1" fill="#427b23"/>
<rect x="1163.62" y="1661.7" width="9.6" height="8.22" fill="#ffff00"/>
<rect x="1163.62" y="1669.92" width="9.6" height="1.35" fill="#3a66c8"/>
<rect x="1185.55" y="1620.48" width="9.6" height="5.12" fill="#ff0000"/>
<rect x="1185.55" y="1619.67" width="9.6" height="0.81" fill="#3a66c8"/>
<rect x="1185.55" y="1625.6" width="9.6" height="14.01" fill="#427b23"/>
<rect x="1185.55" y="1639.61" width="9.6" height="5.93" fill="#ffff00"/>
<rect x="1273.27" y="1623.85" width="9.6" height="1.75" fill="#ff0000"/>
<rect x="1273.27" y="1625.6" width="9.6" height="1.75" fill="#3a66c8"/>
<rect x="1295.2" y="1608.76" width="9.6" height="16.84" fill="#427b23"/>
<rect x="1295.2" y="1605.8" width="9.6" height="2.96" fill="#ff0000"/>
<rect x="1295.2" y="1604.99" width="9.6" height="0.81" fill="#3a66c8"/>
<rect x="1295.2" y="1625.6" width="9.6" height="1.75" fill="#ffff00"/>
<rect x="1339.06" y="1605.93" width="9.6" height="19.67" fill="#ff0000"/>
<rect x="1339.06" y="1625.6" width="9.6" height="42.7" fill="#427b23"/>
<rect x="1339.06" y="1668.3" width="9.6" height="8.22" fill="#ffff00"/>
<rect x="1339.06" y="1676.52" width="9.6" height="1.21" fill="#3a66c8"/>
<rect x="1360.99" y="1618.87" width="9.6" height="6.73" fill="#427b23"/>
<rect x="1360.99" y="1612.13" width="9.6" height="6.73" fill="#ff0000"/>
<rect x="1360.99" y="1625.6" width="9.6" height="2.29" fill="#ffff00"/>
<rect x="960.1" y="1787.5" width="10" height="10" fill="#427b23"/>
<text transform="translate(974.3,1797.4) scale(1,0.93)" x="0" y="0" font-size="18.4" fill="#4a4a4a">Ees</text>
<rect x="1015.2" y="1787.5" width="10" height="10" fill="#ff0000"/>
<text transform="translate(1028.5,1797.4) scale(1,0.93)" x="0" y="0" font-size="18.4" fill="#4a4a4a">Eex</text>
<rect x="1070.3" y="1787.5" width="10" height="10" fill="#ffff00"/>
<text transform="translate(1084.5,1797.4) scale(1,0.93)" x="0" y="0" font-size="18.4" fill="#4a4a4a">Ect+mix</text>
<rect x="1162.1" y="1787.5" width="10" height="10" fill="#3a66c8"/>
<text transform="translate(1175.4,1797.4) scale(1,0.93)" x="0" y="0" font-size="18.4" fill="#4a4a4a">Ect</text>
<rect x="80.3" y="1935.65" width="318" height="1.3" fill="#dedede"/>
<rect x="80.3" y="1969.95" width="318" height="1.3" fill="#dedede"/>
<rect x="80.3" y="2004.25" width="318" height="1.3" fill="#dedede"/>
<rect x="80.3" y="2038.55" width="318" height="1.3" fill="#dedede"/>
<rect x="80.3" y="2072.85" width="318" height="1.3" fill="#dedede"/>
<rect x="80.3" y="2107.15" width="318" height="1.3" fill="#dedede"/>
<rect x="80.3" y="2141.45" width="318" height="1.3" fill="#dedede"/>
<rect x="80.3" y="2175.75" width="318" height="1.3" fill="#dedede"/>
<rect x="80.3" y="2210.05" width="318" height="1.3" fill="#dedede"/>
<rect x="80.3" y="2244.35" width="318" height="1.3" fill="#dedede"/>
<rect x="80.3" y="2278.65" width="318" height="1.3" fill="#dedede"/>
<text x="64.4" y="1942.03" font-size="17.7" text-anchor="end" fill="#4a4a4a">100</text>
<text x="64.4" y="1976.33" font-size="17.7" text-anchor="end" fill="#4a4a4a">80</text>
<text x="64.4" y="2010.63" font-size="17.7" text-anchor="end" fill="#4a4a4a">60</text>
<text x="64.4" y="2044.93" font-size="17.7" text-anchor="end" fill="#4a4a4a">40</text>
<text x="64.4" y="2079.23" font-size="17.7" text-anchor="end" fill="#4a4a4a">20</text>
<text x="64.4" y="2113.53" font-size="17.7" text-anchor="end" fill="#4a4a4a">0</text>
<text x="64.4" y="2147.83" font-size="17.7" text-anchor="end" fill="#4a4a4a">-20</text>
<text x="64.4" y="2182.13" font-size="17.7" text-anchor="end" fill="#4a4a4a">-40</text>
<text x="64.4" y="2216.43" font-size="17.7" text-anchor="end" fill="#4a4a4a">-60</text>
<text x="64.4" y="2250.73" font-size="17.7" text-anchor="end" fill="#4a4a4a">-80</text>
<text x="64.4" y="2285.03" font-size="17.7" text-anchor="end" fill="#4a4a4a">-100</text>
<text transform="translate(25.6,2068) rotate(-90)" x="0" y="0" font-size="17.7" text-anchor="middle" fill="#4a4a4a">ΔEtot (kcal/mol)</text>
<text x="214.6" y="1831" font-size="20.8" font-weight="bold" text-anchor="middle" textLength="47.35" lengthAdjust="spacingAndGlyphs" fill="#5b0f8f" style="stroke:none">TolC</text>
<g transform="translate(99.41,1925.8) rotate(-90)"><rect x="0" y="-15.86" width="75.87" height="19.7" fill="url(#lg)"/><text x="0" y="0" font-size="17.8" fill="#4a4a4a">Tyr362(A)</text></g>
<g transform="translate(125.98,1925.8) rotate(-90)"><rect x="0" y="-15.86" width="79.08" height="19.7" fill="url(#lg)"/><text x="0" y="0" font-size="17.8" fill="#4a4a4a">Leu373(A)</text></g>
<g transform="translate(152.55,1925.8) rotate(-90)"><rect x="0" y="-15.86" width="80.09" height="19.7" fill="url(#lg)"/><text x="0" y="0" font-size="17.8" fill="#4a4a4a">Asp374(A)</text></g>
<g transform="translate(179.12,1925.8) rotate(-90)"><rect x="0" y="-15.86" width="77.11" height="19.7" fill="url(#lg)"/><text x="0" y="0" font-size="17.8" fill="#4a4a4a">Ala375(A)</text></g>
<g transform="translate(205.69,1925.8) rotate(-90)"><rect x="0" y="-15.86" width="74.89" height="19.7" fill="url(#lg)"/><text x="0" y="0" font-size="17.8" fill="#4a4a4a">Tyr362(B)</text></g>
<g transform="translate(232.26,1925.8) rotate(-90)"><rect x="0" y="-15.86" width="78.1" height="19.7" fill="url(#lg)"/><text x="0" y="0" font-size="17.8" fill="#4a4a4a">Leu373(B)</text></g>
<g transform="translate(258.83,1925.8) rotate(-90)"><rect x="0" y="-15.86" width="79.11" height="19.7" fill="url(#lg)"/><text x="0" y="0" font-size="17.8" fill="#4a4a4a">Asp374(B)</text></g>
<g transform="translate(285.4,1925.8) rotate(-90)"><rect x="0" y="-15.86" width="76.13" height="19.7" fill="url(#lg)"/><text x="0" y="0" font-size="17.8" fill="#4a4a4a">Ala375(B)</text></g>
<g transform="translate(311.97,1925.8) rotate(-90)"><rect x="0" y="-15.86" width="74.89" height="19.7" fill="url(#lg)"/><text x="0" y="0" font-size="17.8" fill="#4a4a4a">Tyr362(C)</text></g>
<g transform="translate(338.54,1925.8) rotate(-90)"><rect x="0" y="-15.86" width="78.1" height="19.7" fill="url(#lg)"/><text x="0" y="0" font-size="17.8" fill="#4a4a4a">Leu373(C)</text></g>
<g transform="translate(365.11,1925.8) rotate(-90)"><rect x="0" y="-15.86" width="79.11" height="19.7" fill="url(#lg)"/><text x="0" y="0" font-size="17.8" fill="#4a4a4a">Asp374(C)</text></g>
<g transform="translate(391.68,1925.8) rotate(-90)"><rect x="0" y="-15.86" width="76.13" height="19.7" fill="url(#lg)"/><text x="0" y="0" font-size="17.8" fill="#4a4a4a">Ala375(C)</text></g>
<rect x="115.77" y="2104.71" width="8.4" height="3.09" fill="#4c8fd2"/>
<rect x="142.34" y="2107.8" width="8.4" height="53.16" fill="#4c8fd2"/>
<rect x="168.91" y="2095.11" width="8.4" height="12.69" fill="#4c8fd2"/>
<rect x="222.05" y="2105.57" width="8.4" height="2.23" fill="#4c8fd2"/>
<rect x="248.62" y="2107.8" width="8.4" height="9.78" fill="#4c8fd2"/>
<rect x="275.19" y="2103.86" width="8.4" height="3.94" fill="#4c8fd2"/>
<rect x="354.9" y="2107.8" width="8.4" height="20.41" fill="#4c8fd2"/>
<rect x="381.47" y="2107.8" width="8.4" height="6" fill="#4c8fd2"/>
<rect x="865.1" y="1953.75" width="344.2" height="1.3" fill="#dedede"/>
<rect x="865.1" y="1984.11" width="344.2" height="1.3" fill="#dedede"/>
<rect x="865.1" y="2014.47" width="344.2" height="1.3" fill="#dedede"/>
<rect x="865.1" y="2044.83" width="344.2" height="1.3" fill="#dedede"/>
<rect x="865.1" y="2075.19" width="344.2" height="1.3" fill="#dedede"/>
<rect x="865.1" y="2105.55" width="344.2" height="1.3" fill="#dedede"/>
<rect x="865.1" y="2135.91" width="344.2" height="1.3" fill="#dedede"/>
<rect x="865.1" y="2166.27" width="344.2" height="1.3" fill="#dedede"/>
<rect x="865.1" y="2196.63" width="344.2" height="1.3" fill="#dedede"/>
<rect x="865.1" y="2226.99" width="344.2" height="1.3" fill="#dedede"/>
<rect x="865.1" y="2257.35" width="344.2" height="1.3" fill="#dedede"/>
<text x="848.5" y="1960.36" font-size="18.4" text-anchor="end" fill="#4a4a4a">100</text>
<text x="848.5" y="1990.72" font-size="18.4" text-anchor="end" fill="#4a4a4a">80</text>
<text x="848.5" y="2021.08" font-size="18.4" text-anchor="end" fill="#4a4a4a">60</text>
<text x="848.5" y="2051.44" font-size="18.4" text-anchor="end" fill="#4a4a4a">40</text>
<text x="848.5" y="2081.8" font-size="18.4" text-anchor="end" fill="#4a4a4a">20</text>
<text x="848.5" y="2112.16" font-size="18.4" text-anchor="end" fill="#4a4a4a">0</text>
<text x="848.5" y="2142.52" font-size="18.4" text-anchor="end" fill="#4a4a4a">-20</text>
<text x="848.5" y="2172.88" font-size="18.4" text-anchor="end" fill="#4a4a4a">-40</text>
<text x="848.5" y="2203.24" font-size="18.4" text-anchor="end" fill="#4a4a4a">-60</text>
<text x="848.5" y="2233.6" font-size="18.4" text-anchor="end" fill="#4a4a4a">-80</text>
<text x="848.5" y="2263.96" font-size="18.4" text-anchor="end" fill="#4a4a4a">-100</text>
<text transform="translate(806.1,2106.7) rotate(-90)" x="0" y="0" font-size="18.2" text-anchor="middle" fill="#4a4a4a">ΔE (kcal/mol)</text>
<text x="988" y="1833.8" font-size="21.8" font-weight="bold" text-anchor="middle" textLength="49.03" lengthAdjust="spacingAndGlyphs" fill="#5b0f8f" style="stroke:none">TolC</text>
<g transform="translate(886.15,1942.6) rotate(-90)"><rect x="0" y="-17.82" width="85.24" height="22.14" fill="url(#lg)"/><text x="0" y="0" font-size="20" fill="#4a4a4a">Tyr362(A)</text></g>
<g transform="translate(914.84,1942.6) rotate(-90)"><rect x="0" y="-17.82" width="88.86" height="22.14" fill="url(#lg)"/><text x="0" y="0" font-size="20" fill="#4a4a4a">Leu373(A)</text></g>
<g transform="translate(943.53,1942.6) rotate(-90)"><rect x="0" y="-17.82" width="89.99" height="22.14" fill="url(#lg)"/><text x="0" y="0" font-size="20" fill="#4a4a4a">Asp374(A)</text></g>
<g transform="translate(972.22,1942.6) rotate(-90)"><rect x="0" y="-17.82" width="86.64" height="22.14" fill="url(#lg)"/><text x="0" y="0" font-size="20" fill="#4a4a4a">Ala375(A)</text></g>
<g transform="translate(1000.91,1942.6) rotate(-90)"><rect x="0" y="-17.82" width="84.14" height="22.14" fill="url(#lg)"/><text x="0" y="0" font-size="20" fill="#4a4a4a">Tyr362(B)</text></g>
<g transform="translate(1029.6,1942.6) rotate(-90)"><rect x="0" y="-17.82" width="87.75" height="22.14" fill="url(#lg)"/><text x="0" y="0" font-size="20" fill="#4a4a4a">Leu373(B)</text></g>
<g transform="translate(1058.29,1942.6) rotate(-90)"><rect x="0" y="-17.82" width="88.89" height="22.14" fill="url(#lg)"/><text x="0" y="0" font-size="20" fill="#4a4a4a">Asp374(B)</text></g>
<g transform="translate(1086.98,1942.6) rotate(-90)"><rect x="0" y="-17.82" width="85.54" height="22.14" fill="url(#lg)"/><text x="0" y="0" font-size="20" fill="#4a4a4a">Ala375(B)</text></g>
<g transform="translate(1115.67,1942.6) rotate(-90)"><rect x="0" y="-17.82" width="84.14" height="22.14" fill="url(#lg)"/><text x="0" y="0" font-size="20" fill="#4a4a4a">Tyr362(C)</text></g>
<g transform="translate(1144.36,1942.6) rotate(-90)"><rect x="0" y="-17.82" width="87.75" height="22.14" fill="url(#lg)"/><text x="0" y="0" font-size="20" fill="#4a4a4a">Leu373(C)</text></g>
<g transform="translate(1173.05,1942.6) rotate(-90)"><rect x="0" y="-17.82" width="88.89" height="22.14" fill="url(#lg)"/><text x="0" y="0" font-size="20" fill="#4a4a4a">Asp374(C)</text></g>
<g transform="translate(1201.74,1942.6) rotate(-90)"><rect x="0" y="-17.82" width="85.54" height="22.14" fill="url(#lg)"/><text x="0" y="0" font-size="20" fill="#4a4a4a">Ala375(C)</text></g>
<rect x="901.64" y="2103.01" width="12.9" height="3.19" fill="#427b23"/>
<rect x="901.64" y="2106.2" width="12.9" height="1.67" fill="#ffff00"/>
<rect x="930.33" y="2098.91" width="12.9" height="7.29" fill="#ff0000"/>
<rect x="930.33" y="2098.15" width="12.9" height="0.76" fill="#3a66c8"/>
<rect x="930.33" y="2106.2" width="12.9" height="45.54" fill="#427b23"/>
<rect x="930.33" y="2151.74" width="12.9" height="8.96" fill="#ffff00"/>
<rect x="959.02" y="2097.09" width="12.9" height="9.11" fill="#427b23"/>
<rect x="959.02" y="2093.45" width="12.9" height="3.64" fill="#ff0000"/>
<rect x="959.02" y="2092.69" width="12.9" height="0.76" fill="#3a66c8"/>
<rect x="959.02" y="2106.2" width="12.9" height="2.43" fill="#ffff00"/>
<rect x="1016.4" y="2103.92" width="12.9" height="2.28" fill="#427b23"/>
<rect x="1016.4" y="2106.2" width="12.9" height="1.67" fill="#ffff00"/>
<rect x="1045.09" y="2098.15" width="12.9" height="8.05" fill="#ff0000"/>
<rect x="1045.09" y="2097.24" width="12.9" height="0.91" fill="#3a66c8"/>
<rect x="1045.09" y="2106.2" width="12.9" height="11.23" fill="#427b23"/>
<rect x="1045.09" y="2117.43" width="12.9" height="5.92" fill="#ffff00"/>
<rect x="1073.78" y="2103.47" width="12.9" height="2.73" fill="#427b23"/>
<rect x="1073.78" y="2101.65" width="12.9" height="1.82" fill="#ff0000"/>
<rect x="1073.78" y="2100.89" width="12.9" height="0.76" fill="#3a66c8"/>
<rect x="1073.78" y="2106.2" width="12.9" height="1.37" fill="#ffff00"/>
<rect x="1159.85" y="2098.15" width="12.9" height="8.05" fill="#ff0000"/>
<rect x="1159.85" y="2097.24" width="12.9" height="0.91" fill="#3a66c8"/>
<rect x="1159.85" y="2106.2" width="12.9" height="19.13" fill="#427b23"/>
<rect x="1159.85" y="2125.33" width="12.9" height="8.65" fill="#ffff00"/>
<rect x="1188.54" y="2104.68" width="12.9" height="1.52" fill="#3a66c8"/>
<rect x="1188.54" y="2106.2" width="12.9" height="4.4" fill="#427b23"/>
<rect x="1188.54" y="2110.6" width="12.9" height="2.13" fill="#ffff00"/>
<rect x="873.3" y="2287.4" width="10.8" height="10.8" fill="#427b23"/>
<text transform="translate(888.2,2297.6) scale(1,0.93)" x="0" y="0" font-size="19.6" fill="#4a4a4a">Ees</text>
<rect x="930.7" y="2287.4" width="10.8" height="10.8" fill="#ff0000"/>
<text transform="translate(945.5,2297.6) scale(1,0.93)" x="0" y="0" font-size="19.6" fill="#4a4a4a">Eex</text>
<rect x="991.1" y="2287.4" width="10.8" height="10.8" fill="#ffff00"/>
<text transform="translate(1005.9,2297.6) scale(1,0.93)" x="0" y="0" font-size="19.6" fill="#4a4a4a">Ect+mix</text>
<rect x="1089" y="2287.4" width="10.8" height="10.8" fill="#3a66c8"/>
<text transform="translate(1103.2,2297.6) scale(1,0.93)" x="0" y="0" font-size="19.6" fill="#4a4a4a">Ect</text>
<rect x="8.3" y="1119.6" width="5.4" height="5.4" fill="#fff"/>
<path d="M6.4,1117.2 Q10.5,1118.6 14.2,1122.4 M6.4,1128.2 Q10.5,1126.6 14.2,1122.4" fill="none" stroke="#707070" stroke-width="1.1"/>
<path d="M6.8,1335.6 L9.6,1338.4" stroke="#555" stroke-width="1.5" stroke-linecap="round"/>
</svg>
</body></html>
